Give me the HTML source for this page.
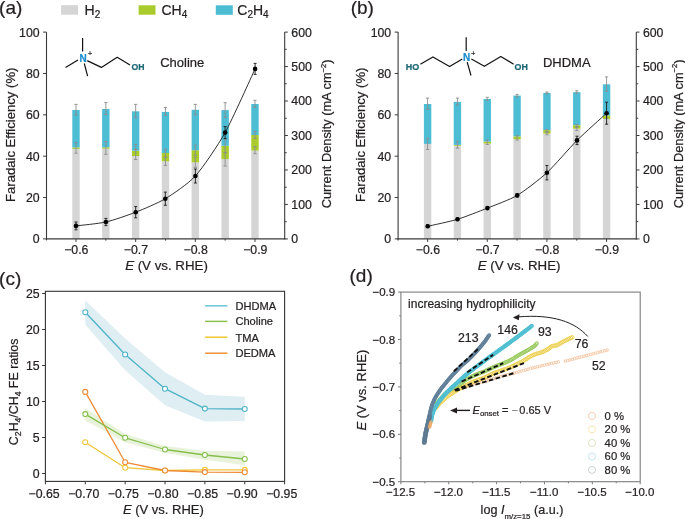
<!DOCTYPE html>
<html><head><meta charset="utf-8"><style>
html,body{margin:0;padding:0;background:#fff;width:685px;height:519px;overflow:hidden}
svg{display:block;font-family:"Liberation Sans", sans-serif;will-change:transform}
</style></head><body>
<svg width="685" height="519" viewBox="0 0 685 519" font-family='"Liberation Sans", sans-serif'>
<rect width="685" height="519" fill="#fff"/>
<rect x="72.30" y="148.90" width="7.4" height="90.00" fill="#d5d5d5"/>
<rect x="72.30" y="147.40" width="7.4" height="1.50" fill="#a9cb2c"/>
<rect x="72.30" y="110.00" width="7.4" height="37.40" fill="#4dbdd4"/>
<rect x="102.13" y="148.70" width="7.4" height="90.20" fill="#d5d5d5"/>
<rect x="102.13" y="147.30" width="7.4" height="1.40" fill="#a9cb2c"/>
<rect x="102.13" y="109.00" width="7.4" height="38.30" fill="#4dbdd4"/>
<rect x="131.96" y="156.00" width="7.4" height="82.90" fill="#d5d5d5"/>
<rect x="131.96" y="150.70" width="7.4" height="5.30" fill="#a9cb2c"/>
<rect x="131.96" y="111.30" width="7.4" height="39.40" fill="#4dbdd4"/>
<rect x="161.79" y="161.30" width="7.4" height="77.60" fill="#d5d5d5"/>
<rect x="161.79" y="153.00" width="7.4" height="8.30" fill="#a9cb2c"/>
<rect x="161.79" y="111.90" width="7.4" height="41.10" fill="#4dbdd4"/>
<rect x="191.62" y="162.30" width="7.4" height="76.60" fill="#d5d5d5"/>
<rect x="191.62" y="150.20" width="7.4" height="12.10" fill="#a9cb2c"/>
<rect x="191.62" y="109.80" width="7.4" height="40.40" fill="#4dbdd4"/>
<rect x="221.45" y="159.10" width="7.4" height="79.80" fill="#d5d5d5"/>
<rect x="221.45" y="145.80" width="7.4" height="13.30" fill="#a9cb2c"/>
<rect x="221.45" y="110.10" width="7.4" height="35.70" fill="#4dbdd4"/>
<rect x="251.28" y="150.60" width="7.4" height="88.30" fill="#d5d5d5"/>
<rect x="251.28" y="135.00" width="7.4" height="15.60" fill="#a9cb2c"/>
<rect x="251.28" y="104.00" width="7.4" height="31.00" fill="#4dbdd4"/>
<line x1="76.00" y1="104.40" x2="76.00" y2="115.00" stroke="#8d8d8d" stroke-width="0.9" />
<line x1="74.40" y1="104.40" x2="77.60" y2="104.40" stroke="#8d8d8d" stroke-width="0.9" />
<line x1="74.40" y1="115.00" x2="77.60" y2="115.00" stroke="#8d8d8d" stroke-width="0.9" />
<line x1="76.00" y1="142.60" x2="76.00" y2="153.20" stroke="#8d8d8d" stroke-width="0.9" />
<line x1="74.40" y1="142.60" x2="77.60" y2="142.60" stroke="#8d8d8d" stroke-width="0.9" />
<line x1="74.40" y1="153.20" x2="77.60" y2="153.20" stroke="#8d8d8d" stroke-width="0.9" />
<line x1="105.83" y1="102.50" x2="105.83" y2="114.40" stroke="#8d8d8d" stroke-width="0.9" />
<line x1="104.23" y1="102.50" x2="107.43" y2="102.50" stroke="#8d8d8d" stroke-width="0.9" />
<line x1="104.23" y1="114.40" x2="107.43" y2="114.40" stroke="#8d8d8d" stroke-width="0.9" />
<line x1="105.83" y1="141.50" x2="105.83" y2="154.30" stroke="#8d8d8d" stroke-width="0.9" />
<line x1="104.23" y1="141.50" x2="107.43" y2="141.50" stroke="#8d8d8d" stroke-width="0.9" />
<line x1="104.23" y1="154.30" x2="107.43" y2="154.30" stroke="#8d8d8d" stroke-width="0.9" />
<line x1="135.66" y1="104.40" x2="135.66" y2="117.80" stroke="#8d8d8d" stroke-width="0.9" />
<line x1="134.06" y1="104.40" x2="137.26" y2="104.40" stroke="#8d8d8d" stroke-width="0.9" />
<line x1="134.06" y1="117.80" x2="137.26" y2="117.80" stroke="#8d8d8d" stroke-width="0.9" />
<line x1="135.66" y1="144.50" x2="135.66" y2="149.50" stroke="#8d8d8d" stroke-width="0.9" />
<line x1="134.06" y1="144.50" x2="137.26" y2="144.50" stroke="#8d8d8d" stroke-width="0.9" />
<line x1="134.06" y1="149.50" x2="137.26" y2="149.50" stroke="#8d8d8d" stroke-width="0.9" />
<line x1="135.66" y1="149.50" x2="135.66" y2="159.50" stroke="#8d8d8d" stroke-width="0.9" />
<line x1="134.06" y1="149.50" x2="137.26" y2="149.50" stroke="#8d8d8d" stroke-width="0.9" />
<line x1="134.06" y1="159.50" x2="137.26" y2="159.50" stroke="#8d8d8d" stroke-width="0.9" />
<line x1="165.49" y1="107.40" x2="165.49" y2="115.50" stroke="#8d8d8d" stroke-width="0.9" />
<line x1="163.89" y1="107.40" x2="167.09" y2="107.40" stroke="#8d8d8d" stroke-width="0.9" />
<line x1="163.89" y1="115.50" x2="167.09" y2="115.50" stroke="#8d8d8d" stroke-width="0.9" />
<line x1="165.49" y1="149.20" x2="165.49" y2="157.30" stroke="#8d8d8d" stroke-width="0.9" />
<line x1="163.89" y1="149.20" x2="167.09" y2="149.20" stroke="#8d8d8d" stroke-width="0.9" />
<line x1="163.89" y1="157.30" x2="167.09" y2="157.30" stroke="#8d8d8d" stroke-width="0.9" />
<line x1="165.49" y1="157.30" x2="165.49" y2="165.40" stroke="#8d8d8d" stroke-width="0.9" />
<line x1="163.89" y1="157.30" x2="167.09" y2="157.30" stroke="#8d8d8d" stroke-width="0.9" />
<line x1="163.89" y1="165.40" x2="167.09" y2="165.40" stroke="#8d8d8d" stroke-width="0.9" />
<line x1="195.32" y1="104.40" x2="195.32" y2="114.80" stroke="#8d8d8d" stroke-width="0.9" />
<line x1="193.72" y1="104.40" x2="196.92" y2="104.40" stroke="#8d8d8d" stroke-width="0.9" />
<line x1="193.72" y1="114.80" x2="196.92" y2="114.80" stroke="#8d8d8d" stroke-width="0.9" />
<line x1="195.32" y1="145.20" x2="195.32" y2="155.30" stroke="#8d8d8d" stroke-width="0.9" />
<line x1="193.72" y1="145.20" x2="196.92" y2="145.20" stroke="#8d8d8d" stroke-width="0.9" />
<line x1="193.72" y1="155.30" x2="196.92" y2="155.30" stroke="#8d8d8d" stroke-width="0.9" />
<line x1="195.32" y1="157.30" x2="195.32" y2="167.40" stroke="#8d8d8d" stroke-width="0.9" />
<line x1="193.72" y1="157.30" x2="196.92" y2="157.30" stroke="#8d8d8d" stroke-width="0.9" />
<line x1="193.72" y1="167.40" x2="196.92" y2="167.40" stroke="#8d8d8d" stroke-width="0.9" />
<line x1="225.15" y1="102.70" x2="225.15" y2="117.50" stroke="#8d8d8d" stroke-width="0.9" />
<line x1="223.55" y1="102.70" x2="226.75" y2="102.70" stroke="#8d8d8d" stroke-width="0.9" />
<line x1="223.55" y1="117.50" x2="226.75" y2="117.50" stroke="#8d8d8d" stroke-width="0.9" />
<line x1="225.15" y1="139.00" x2="225.15" y2="152.60" stroke="#8d8d8d" stroke-width="0.9" />
<line x1="223.55" y1="139.00" x2="226.75" y2="139.00" stroke="#8d8d8d" stroke-width="0.9" />
<line x1="223.55" y1="152.60" x2="226.75" y2="152.60" stroke="#8d8d8d" stroke-width="0.9" />
<line x1="225.15" y1="152.60" x2="225.15" y2="166.10" stroke="#8d8d8d" stroke-width="0.9" />
<line x1="223.55" y1="152.60" x2="226.75" y2="152.60" stroke="#8d8d8d" stroke-width="0.9" />
<line x1="223.55" y1="166.10" x2="226.75" y2="166.10" stroke="#8d8d8d" stroke-width="0.9" />
<line x1="254.98" y1="100.30" x2="254.98" y2="107.40" stroke="#8d8d8d" stroke-width="0.9" />
<line x1="253.38" y1="100.30" x2="256.58" y2="100.30" stroke="#8d8d8d" stroke-width="0.9" />
<line x1="253.38" y1="107.40" x2="256.58" y2="107.40" stroke="#8d8d8d" stroke-width="0.9" />
<line x1="254.98" y1="131.40" x2="254.98" y2="138.50" stroke="#8d8d8d" stroke-width="0.9" />
<line x1="253.38" y1="131.40" x2="256.58" y2="131.40" stroke="#8d8d8d" stroke-width="0.9" />
<line x1="253.38" y1="138.50" x2="256.58" y2="138.50" stroke="#8d8d8d" stroke-width="0.9" />
<line x1="254.98" y1="146.60" x2="254.98" y2="153.70" stroke="#8d8d8d" stroke-width="0.9" />
<line x1="253.38" y1="146.60" x2="256.58" y2="146.60" stroke="#8d8d8d" stroke-width="0.9" />
<line x1="253.38" y1="153.70" x2="256.58" y2="153.70" stroke="#8d8d8d" stroke-width="0.9" />
<line x1="46.50" y1="32.10" x2="46.50" y2="240.40" stroke="#3a3a3a" stroke-width="1.1" />
<line x1="284.70" y1="32.10" x2="284.70" y2="239.50" stroke="#3a3a3a" stroke-width="1.1" />
<line x1="46.00" y1="238.90" x2="285.20" y2="238.90" stroke="#3a3a3a" stroke-width="1.1" />
<line x1="43.10" y1="238.90" x2="46.50" y2="238.90" stroke="#3a3a3a" stroke-width="1.0" />
<text x="39.60" y="243.30" font-size="12.3" text-anchor="end" fill="#231f20" stroke="#231f20" stroke-width="0.22" >0</text>
<line x1="43.10" y1="197.54" x2="46.50" y2="197.54" stroke="#3a3a3a" stroke-width="1.0" />
<text x="39.60" y="201.94" font-size="12.3" text-anchor="end" fill="#231f20" stroke="#231f20" stroke-width="0.22" >20</text>
<line x1="43.10" y1="156.18" x2="46.50" y2="156.18" stroke="#3a3a3a" stroke-width="1.0" />
<text x="39.60" y="160.58" font-size="12.3" text-anchor="end" fill="#231f20" stroke="#231f20" stroke-width="0.22" >40</text>
<line x1="43.10" y1="114.82" x2="46.50" y2="114.82" stroke="#3a3a3a" stroke-width="1.0" />
<text x="39.60" y="119.22" font-size="12.3" text-anchor="end" fill="#231f20" stroke="#231f20" stroke-width="0.22" >60</text>
<line x1="43.10" y1="73.46" x2="46.50" y2="73.46" stroke="#3a3a3a" stroke-width="1.0" />
<text x="39.60" y="77.86" font-size="12.3" text-anchor="end" fill="#231f20" stroke="#231f20" stroke-width="0.22" >80</text>
<line x1="43.10" y1="32.10" x2="46.50" y2="32.10" stroke="#3a3a3a" stroke-width="1.0" />
<text x="39.60" y="36.50" font-size="12.3" text-anchor="end" fill="#231f20" stroke="#231f20" stroke-width="0.22" >100</text>
<line x1="284.70" y1="238.90" x2="287.90" y2="238.90" stroke="#3a3a3a" stroke-width="1.0" />
<text x="291.30" y="243.30" font-size="12.3" text-anchor="start" fill="#231f20" stroke="#231f20" stroke-width="0.22" >0</text>
<line x1="284.70" y1="221.67" x2="286.70" y2="221.67" stroke="#3a3a3a" stroke-width="1.0" />
<line x1="284.70" y1="204.43" x2="287.90" y2="204.43" stroke="#3a3a3a" stroke-width="1.0" />
<text x="291.30" y="208.83" font-size="12.3" text-anchor="start" fill="#231f20" stroke="#231f20" stroke-width="0.22" >100</text>
<line x1="284.70" y1="187.20" x2="286.70" y2="187.20" stroke="#3a3a3a" stroke-width="1.0" />
<line x1="284.70" y1="169.97" x2="287.90" y2="169.97" stroke="#3a3a3a" stroke-width="1.0" />
<text x="291.30" y="174.37" font-size="12.3" text-anchor="start" fill="#231f20" stroke="#231f20" stroke-width="0.22" >200</text>
<line x1="284.70" y1="152.73" x2="286.70" y2="152.73" stroke="#3a3a3a" stroke-width="1.0" />
<line x1="284.70" y1="135.50" x2="287.90" y2="135.50" stroke="#3a3a3a" stroke-width="1.0" />
<text x="291.30" y="139.90" font-size="12.3" text-anchor="start" fill="#231f20" stroke="#231f20" stroke-width="0.22" >300</text>
<line x1="284.70" y1="118.27" x2="286.70" y2="118.27" stroke="#3a3a3a" stroke-width="1.0" />
<line x1="284.70" y1="101.03" x2="287.90" y2="101.03" stroke="#3a3a3a" stroke-width="1.0" />
<text x="291.30" y="105.43" font-size="12.3" text-anchor="start" fill="#231f20" stroke="#231f20" stroke-width="0.22" >400</text>
<line x1="284.70" y1="83.80" x2="286.70" y2="83.80" stroke="#3a3a3a" stroke-width="1.0" />
<line x1="284.70" y1="66.57" x2="287.90" y2="66.57" stroke="#3a3a3a" stroke-width="1.0" />
<text x="291.30" y="70.97" font-size="12.3" text-anchor="start" fill="#231f20" stroke="#231f20" stroke-width="0.22" >500</text>
<line x1="284.70" y1="49.33" x2="286.70" y2="49.33" stroke="#3a3a3a" stroke-width="1.0" />
<line x1="284.70" y1="32.10" x2="287.90" y2="32.10" stroke="#3a3a3a" stroke-width="1.0" />
<text x="291.30" y="36.50" font-size="12.3" text-anchor="start" fill="#231f20" stroke="#231f20" stroke-width="0.22" >600</text>
<line x1="76.00" y1="238.90" x2="76.00" y2="241.90" stroke="#3a3a3a" stroke-width="1.0" />
<text x="76.30" y="254.20" font-size="12.3" text-anchor="middle" fill="#231f20" stroke="#231f20" stroke-width="0.22" >&#8722;0.6</text>
<line x1="105.83" y1="238.90" x2="105.83" y2="240.60" stroke="#3a3a3a" stroke-width="1.0" />
<line x1="135.66" y1="238.90" x2="135.66" y2="241.90" stroke="#3a3a3a" stroke-width="1.0" />
<text x="135.96" y="254.20" font-size="12.3" text-anchor="middle" fill="#231f20" stroke="#231f20" stroke-width="0.22" >&#8722;0.7</text>
<line x1="165.49" y1="238.90" x2="165.49" y2="240.60" stroke="#3a3a3a" stroke-width="1.0" />
<line x1="195.32" y1="238.90" x2="195.32" y2="241.90" stroke="#3a3a3a" stroke-width="1.0" />
<text x="195.62" y="254.20" font-size="12.3" text-anchor="middle" fill="#231f20" stroke="#231f20" stroke-width="0.22" >&#8722;0.8</text>
<line x1="225.15" y1="238.90" x2="225.15" y2="240.60" stroke="#3a3a3a" stroke-width="1.0" />
<line x1="254.98" y1="238.90" x2="254.98" y2="241.90" stroke="#3a3a3a" stroke-width="1.0" />
<text x="255.28" y="254.20" font-size="12.3" text-anchor="middle" fill="#231f20" stroke="#231f20" stroke-width="0.22" >&#8722;0.9</text>
<path d="M76.00,225.90 C79.49,225.44 98.94,223.60 105.90,222.00 C112.87,220.40 128.77,214.92 135.70,212.20 C142.63,209.48 158.34,202.92 165.30,198.70 C172.27,194.48 188.42,183.71 195.40,176.00 C202.38,168.29 218.13,145.09 225.10,132.60 C232.06,120.10 251.60,76.33 255.10,68.90" stroke="#1a1a1a" stroke-width="0.9" fill="none"/>
<line x1="76.00" y1="222.00" x2="76.00" y2="229.80" stroke="#1a1a1a" stroke-width="0.9" />
<line x1="74.50" y1="222.00" x2="77.50" y2="222.00" stroke="#1a1a1a" stroke-width="0.9" />
<line x1="74.50" y1="229.80" x2="77.50" y2="229.80" stroke="#1a1a1a" stroke-width="0.9" />
<circle cx="76.00" cy="225.90" r="2.3" fill="#000"/>
<line x1="105.90" y1="218.40" x2="105.90" y2="225.60" stroke="#1a1a1a" stroke-width="0.9" />
<line x1="104.40" y1="218.40" x2="107.40" y2="218.40" stroke="#1a1a1a" stroke-width="0.9" />
<line x1="104.40" y1="225.60" x2="107.40" y2="225.60" stroke="#1a1a1a" stroke-width="0.9" />
<circle cx="105.90" cy="222.00" r="2.3" fill="#000"/>
<line x1="135.70" y1="206.60" x2="135.70" y2="217.80" stroke="#1a1a1a" stroke-width="0.9" />
<line x1="134.20" y1="206.60" x2="137.20" y2="206.60" stroke="#1a1a1a" stroke-width="0.9" />
<line x1="134.20" y1="217.80" x2="137.20" y2="217.80" stroke="#1a1a1a" stroke-width="0.9" />
<circle cx="135.70" cy="212.20" r="2.3" fill="#000"/>
<line x1="165.30" y1="192.10" x2="165.30" y2="205.30" stroke="#1a1a1a" stroke-width="0.9" />
<line x1="163.80" y1="192.10" x2="166.80" y2="192.10" stroke="#1a1a1a" stroke-width="0.9" />
<line x1="163.80" y1="205.30" x2="166.80" y2="205.30" stroke="#1a1a1a" stroke-width="0.9" />
<circle cx="165.30" cy="198.70" r="2.3" fill="#000"/>
<line x1="195.40" y1="169.00" x2="195.40" y2="183.00" stroke="#1a1a1a" stroke-width="0.9" />
<line x1="193.90" y1="169.00" x2="196.90" y2="169.00" stroke="#1a1a1a" stroke-width="0.9" />
<line x1="193.90" y1="183.00" x2="196.90" y2="183.00" stroke="#1a1a1a" stroke-width="0.9" />
<circle cx="195.40" cy="176.00" r="2.3" fill="#000"/>
<line x1="225.10" y1="126.60" x2="225.10" y2="138.60" stroke="#1a1a1a" stroke-width="0.9" />
<line x1="223.60" y1="126.60" x2="226.60" y2="126.60" stroke="#1a1a1a" stroke-width="0.9" />
<line x1="223.60" y1="138.60" x2="226.60" y2="138.60" stroke="#1a1a1a" stroke-width="0.9" />
<circle cx="225.10" cy="132.60" r="2.3" fill="#000"/>
<line x1="255.10" y1="63.40" x2="255.10" y2="74.40" stroke="#1a1a1a" stroke-width="0.9" />
<line x1="253.60" y1="63.40" x2="256.60" y2="63.40" stroke="#1a1a1a" stroke-width="0.9" />
<line x1="253.60" y1="74.40" x2="256.60" y2="74.40" stroke="#1a1a1a" stroke-width="0.9" />
<circle cx="255.10" cy="68.90" r="2.3" fill="#000"/>
<text x="0" y="0" font-size="13.1" text-anchor="middle" fill="#231f20" stroke="#231f20" stroke-width="0.22" transform="translate(15.20,134.80) rotate(-90)">Faradaic Efficiency (%)</text>
<text x="0" y="0" font-size="12.8" text-anchor="middle" fill="#231f20" stroke="#231f20" stroke-width="0.22" transform="translate(330.90,133.90) rotate(-90)">Current Density (mA cm<tspan font-size="7.6" dy="-5.4">&#8722;2</tspan><tspan dy="5.4">)</tspan></text>
<text x="166.50" y="270.2" font-size="13.3" text-anchor="middle" fill="#231f20" stroke="#231f20" stroke-width="0.22"><tspan font-style="italic">E</tspan> (V vs. RHE)</text>
<text x="-0.90" y="13.90" font-size="19" text-anchor="start" fill="#231f20" stroke="#231f20" stroke-width="0.22" >(a)</text>
<rect x="61.1" y="5.2" width="17" height="9.5" fill="#d5d5d5"/>
<rect x="138.6" y="5.3" width="16.9" height="9.4" fill="#a9cb2c"/>
<rect x="215.8" y="5.3" width="17" height="9.5" fill="#4dbdd4"/>
<text x="84.6" y="15.3" font-size="14" fill="#231f20" stroke="#231f20" stroke-width="0.22">H<tspan font-size="10" dy="2.2">2</tspan></text>
<text x="161.4" y="15.3" font-size="14" fill="#231f20" stroke="#231f20" stroke-width="0.22">CH<tspan font-size="10" dy="2.2">4</tspan></text>
<text x="237.3" y="15.3" font-size="14" fill="#231f20" stroke="#231f20" stroke-width="0.22">C<tspan font-size="10" dy="2.2">2</tspan><tspan dy="-2.2">H</tspan><tspan font-size="10" dy="2.2">4</tspan></text>
<line x1="82.60" y1="37.90" x2="82.60" y2="51.50" stroke="#111" stroke-width="1.2" />
<line x1="65.50" y1="67.40" x2="78.00" y2="60.00" stroke="#111" stroke-width="1.2" />
<line x1="84.30" y1="63.50" x2="87.60" y2="76.20" stroke="#111" stroke-width="1.2" />
<polyline points="87.60,60.90 101.40,67.40 117.20,57.30 129.60,64.80" stroke="#111" stroke-width="1.2" fill="none" stroke-linejoin="round" stroke-linecap="round" stroke-linecap="butt"/>
<text x="83.00" y="61.50" font-size="10" text-anchor="middle" fill="#1a8dd0" stroke="#1a8dd0" stroke-width="0.22" font-weight="bold">N</text>
<text x="90.00" y="56.00" font-size="7" text-anchor="middle" fill="#222" stroke="#222" stroke-width="0.22" >+</text>
<text x="131.60" y="70.10" font-size="9" text-anchor="start" fill="#1c6675" stroke="#1c6675" stroke-width="0.22" font-weight="bold" textLength="13" lengthAdjust="spacingAndGlyphs">OH</text>
<text x="160.20" y="67.00" font-size="13" text-anchor="start" fill="#231f20" stroke="#231f20" stroke-width="0.22" >Choline</text>
<rect x="423.90" y="143.90" width="7.4" height="95.00" fill="#d5d5d5"/>
<rect x="423.90" y="104.00" width="7.4" height="39.90" fill="#4dbdd4"/>
<rect x="453.73" y="145.70" width="7.4" height="93.20" fill="#d5d5d5"/>
<rect x="453.73" y="144.90" width="7.4" height="0.80" fill="#a9cb2c"/>
<rect x="453.73" y="101.90" width="7.4" height="43.00" fill="#4dbdd4"/>
<rect x="483.56" y="143.60" width="7.4" height="95.30" fill="#d5d5d5"/>
<rect x="483.56" y="141.60" width="7.4" height="2.00" fill="#a9cb2c"/>
<rect x="483.56" y="99.00" width="7.4" height="42.60" fill="#4dbdd4"/>
<rect x="513.39" y="139.20" width="7.4" height="99.70" fill="#d5d5d5"/>
<rect x="513.39" y="136.40" width="7.4" height="2.80" fill="#a9cb2c"/>
<rect x="513.39" y="95.60" width="7.4" height="40.80" fill="#4dbdd4"/>
<rect x="543.22" y="133.60" width="7.4" height="105.30" fill="#d5d5d5"/>
<rect x="543.22" y="130.10" width="7.4" height="3.50" fill="#a9cb2c"/>
<rect x="543.22" y="92.90" width="7.4" height="37.20" fill="#4dbdd4"/>
<rect x="573.05" y="128.70" width="7.4" height="110.20" fill="#d5d5d5"/>
<rect x="573.05" y="125.20" width="7.4" height="3.50" fill="#a9cb2c"/>
<rect x="573.05" y="92.20" width="7.4" height="33.00" fill="#4dbdd4"/>
<rect x="602.88" y="119.00" width="7.4" height="119.90" fill="#d5d5d5"/>
<rect x="602.88" y="115.50" width="7.4" height="3.50" fill="#a9cb2c"/>
<rect x="602.88" y="84.30" width="7.4" height="31.20" fill="#4dbdd4"/>
<line x1="427.60" y1="98.10" x2="427.60" y2="109.40" stroke="#8d8d8d" stroke-width="0.9" />
<line x1="426.00" y1="98.10" x2="429.20" y2="98.10" stroke="#8d8d8d" stroke-width="0.9" />
<line x1="426.00" y1="109.40" x2="429.20" y2="109.40" stroke="#8d8d8d" stroke-width="0.9" />
<line x1="427.60" y1="138.20" x2="427.60" y2="149.50" stroke="#8d8d8d" stroke-width="0.9" />
<line x1="426.00" y1="138.20" x2="429.20" y2="138.20" stroke="#8d8d8d" stroke-width="0.9" />
<line x1="426.00" y1="149.50" x2="429.20" y2="149.50" stroke="#8d8d8d" stroke-width="0.9" />
<line x1="457.43" y1="98.10" x2="457.43" y2="105.00" stroke="#8d8d8d" stroke-width="0.9" />
<line x1="455.83" y1="98.10" x2="459.03" y2="98.10" stroke="#8d8d8d" stroke-width="0.9" />
<line x1="455.83" y1="105.00" x2="459.03" y2="105.00" stroke="#8d8d8d" stroke-width="0.9" />
<line x1="457.43" y1="141.30" x2="457.43" y2="148.20" stroke="#8d8d8d" stroke-width="0.9" />
<line x1="455.83" y1="141.30" x2="459.03" y2="141.30" stroke="#8d8d8d" stroke-width="0.9" />
<line x1="455.83" y1="148.20" x2="459.03" y2="148.20" stroke="#8d8d8d" stroke-width="0.9" />
<line x1="487.26" y1="97.30" x2="487.26" y2="100.30" stroke="#8d8d8d" stroke-width="0.9" />
<line x1="485.66" y1="97.30" x2="488.86" y2="97.30" stroke="#8d8d8d" stroke-width="0.9" />
<line x1="485.66" y1="100.30" x2="488.86" y2="100.30" stroke="#8d8d8d" stroke-width="0.9" />
<line x1="487.26" y1="140.10" x2="487.26" y2="144.50" stroke="#8d8d8d" stroke-width="0.9" />
<line x1="485.66" y1="140.10" x2="488.86" y2="140.10" stroke="#8d8d8d" stroke-width="0.9" />
<line x1="485.66" y1="144.50" x2="488.86" y2="144.50" stroke="#8d8d8d" stroke-width="0.9" />
<line x1="517.09" y1="94.40" x2="517.09" y2="96.90" stroke="#8d8d8d" stroke-width="0.9" />
<line x1="515.49" y1="94.40" x2="518.69" y2="94.40" stroke="#8d8d8d" stroke-width="0.9" />
<line x1="515.49" y1="96.90" x2="518.69" y2="96.90" stroke="#8d8d8d" stroke-width="0.9" />
<line x1="517.09" y1="135.70" x2="517.09" y2="140.10" stroke="#8d8d8d" stroke-width="0.9" />
<line x1="515.49" y1="135.70" x2="518.69" y2="135.70" stroke="#8d8d8d" stroke-width="0.9" />
<line x1="515.49" y1="140.10" x2="518.69" y2="140.10" stroke="#8d8d8d" stroke-width="0.9" />
<line x1="546.92" y1="92.00" x2="546.92" y2="93.80" stroke="#8d8d8d" stroke-width="0.9" />
<line x1="545.32" y1="92.00" x2="548.52" y2="92.00" stroke="#8d8d8d" stroke-width="0.9" />
<line x1="545.32" y1="93.80" x2="548.52" y2="93.80" stroke="#8d8d8d" stroke-width="0.9" />
<line x1="546.92" y1="129.50" x2="546.92" y2="131.50" stroke="#8d8d8d" stroke-width="0.9" />
<line x1="545.32" y1="129.50" x2="548.52" y2="129.50" stroke="#8d8d8d" stroke-width="0.9" />
<line x1="545.32" y1="131.50" x2="548.52" y2="131.50" stroke="#8d8d8d" stroke-width="0.9" />
<line x1="546.92" y1="132.50" x2="546.92" y2="134.80" stroke="#8d8d8d" stroke-width="0.9" />
<line x1="545.32" y1="132.50" x2="548.52" y2="132.50" stroke="#8d8d8d" stroke-width="0.9" />
<line x1="545.32" y1="134.80" x2="548.52" y2="134.80" stroke="#8d8d8d" stroke-width="0.9" />
<line x1="576.75" y1="90.80" x2="576.75" y2="93.30" stroke="#8d8d8d" stroke-width="0.9" />
<line x1="575.15" y1="90.80" x2="578.35" y2="90.80" stroke="#8d8d8d" stroke-width="0.9" />
<line x1="575.15" y1="93.30" x2="578.35" y2="93.30" stroke="#8d8d8d" stroke-width="0.9" />
<line x1="576.75" y1="124.50" x2="576.75" y2="126.50" stroke="#8d8d8d" stroke-width="0.9" />
<line x1="575.15" y1="124.50" x2="578.35" y2="124.50" stroke="#8d8d8d" stroke-width="0.9" />
<line x1="575.15" y1="126.50" x2="578.35" y2="126.50" stroke="#8d8d8d" stroke-width="0.9" />
<line x1="576.75" y1="127.50" x2="576.75" y2="130.50" stroke="#8d8d8d" stroke-width="0.9" />
<line x1="575.15" y1="127.50" x2="578.35" y2="127.50" stroke="#8d8d8d" stroke-width="0.9" />
<line x1="575.15" y1="130.50" x2="578.35" y2="130.50" stroke="#8d8d8d" stroke-width="0.9" />
<line x1="606.58" y1="76.90" x2="606.58" y2="91.30" stroke="#8d8d8d" stroke-width="0.9" />
<line x1="604.98" y1="76.90" x2="608.18" y2="76.90" stroke="#8d8d8d" stroke-width="0.9" />
<line x1="604.98" y1="91.30" x2="608.18" y2="91.30" stroke="#8d8d8d" stroke-width="0.9" />
<line x1="606.58" y1="112.50" x2="606.58" y2="118.50" stroke="#8d8d8d" stroke-width="0.9" />
<line x1="604.98" y1="112.50" x2="608.18" y2="112.50" stroke="#8d8d8d" stroke-width="0.9" />
<line x1="604.98" y1="118.50" x2="608.18" y2="118.50" stroke="#8d8d8d" stroke-width="0.9" />
<line x1="398.10" y1="32.10" x2="398.10" y2="240.40" stroke="#3a3a3a" stroke-width="1.1" />
<line x1="636.30" y1="32.10" x2="636.30" y2="239.50" stroke="#3a3a3a" stroke-width="1.1" />
<line x1="397.60" y1="238.90" x2="636.80" y2="238.90" stroke="#3a3a3a" stroke-width="1.1" />
<line x1="394.70" y1="238.90" x2="398.10" y2="238.90" stroke="#3a3a3a" stroke-width="1.0" />
<text x="391.20" y="243.30" font-size="12.3" text-anchor="end" fill="#231f20" stroke="#231f20" stroke-width="0.22" >0</text>
<line x1="394.70" y1="197.54" x2="398.10" y2="197.54" stroke="#3a3a3a" stroke-width="1.0" />
<text x="391.20" y="201.94" font-size="12.3" text-anchor="end" fill="#231f20" stroke="#231f20" stroke-width="0.22" >20</text>
<line x1="394.70" y1="156.18" x2="398.10" y2="156.18" stroke="#3a3a3a" stroke-width="1.0" />
<text x="391.20" y="160.58" font-size="12.3" text-anchor="end" fill="#231f20" stroke="#231f20" stroke-width="0.22" >40</text>
<line x1="394.70" y1="114.82" x2="398.10" y2="114.82" stroke="#3a3a3a" stroke-width="1.0" />
<text x="391.20" y="119.22" font-size="12.3" text-anchor="end" fill="#231f20" stroke="#231f20" stroke-width="0.22" >60</text>
<line x1="394.70" y1="73.46" x2="398.10" y2="73.46" stroke="#3a3a3a" stroke-width="1.0" />
<text x="391.20" y="77.86" font-size="12.3" text-anchor="end" fill="#231f20" stroke="#231f20" stroke-width="0.22" >80</text>
<line x1="394.70" y1="32.10" x2="398.10" y2="32.10" stroke="#3a3a3a" stroke-width="1.0" />
<text x="391.20" y="36.50" font-size="12.3" text-anchor="end" fill="#231f20" stroke="#231f20" stroke-width="0.22" >100</text>
<line x1="636.30" y1="238.90" x2="639.50" y2="238.90" stroke="#3a3a3a" stroke-width="1.0" />
<text x="642.90" y="243.30" font-size="12.3" text-anchor="start" fill="#231f20" stroke="#231f20" stroke-width="0.22" >0</text>
<line x1="636.30" y1="221.67" x2="638.30" y2="221.67" stroke="#3a3a3a" stroke-width="1.0" />
<line x1="636.30" y1="204.43" x2="639.50" y2="204.43" stroke="#3a3a3a" stroke-width="1.0" />
<text x="642.90" y="208.83" font-size="12.3" text-anchor="start" fill="#231f20" stroke="#231f20" stroke-width="0.22" >100</text>
<line x1="636.30" y1="187.20" x2="638.30" y2="187.20" stroke="#3a3a3a" stroke-width="1.0" />
<line x1="636.30" y1="169.97" x2="639.50" y2="169.97" stroke="#3a3a3a" stroke-width="1.0" />
<text x="642.90" y="174.37" font-size="12.3" text-anchor="start" fill="#231f20" stroke="#231f20" stroke-width="0.22" >200</text>
<line x1="636.30" y1="152.73" x2="638.30" y2="152.73" stroke="#3a3a3a" stroke-width="1.0" />
<line x1="636.30" y1="135.50" x2="639.50" y2="135.50" stroke="#3a3a3a" stroke-width="1.0" />
<text x="642.90" y="139.90" font-size="12.3" text-anchor="start" fill="#231f20" stroke="#231f20" stroke-width="0.22" >300</text>
<line x1="636.30" y1="118.27" x2="638.30" y2="118.27" stroke="#3a3a3a" stroke-width="1.0" />
<line x1="636.30" y1="101.03" x2="639.50" y2="101.03" stroke="#3a3a3a" stroke-width="1.0" />
<text x="642.90" y="105.43" font-size="12.3" text-anchor="start" fill="#231f20" stroke="#231f20" stroke-width="0.22" >400</text>
<line x1="636.30" y1="83.80" x2="638.30" y2="83.80" stroke="#3a3a3a" stroke-width="1.0" />
<line x1="636.30" y1="66.57" x2="639.50" y2="66.57" stroke="#3a3a3a" stroke-width="1.0" />
<text x="642.90" y="70.97" font-size="12.3" text-anchor="start" fill="#231f20" stroke="#231f20" stroke-width="0.22" >500</text>
<line x1="636.30" y1="49.33" x2="638.30" y2="49.33" stroke="#3a3a3a" stroke-width="1.0" />
<line x1="636.30" y1="32.10" x2="639.50" y2="32.10" stroke="#3a3a3a" stroke-width="1.0" />
<text x="642.90" y="36.50" font-size="12.3" text-anchor="start" fill="#231f20" stroke="#231f20" stroke-width="0.22" >600</text>
<line x1="427.60" y1="238.90" x2="427.60" y2="241.90" stroke="#3a3a3a" stroke-width="1.0" />
<text x="427.90" y="254.20" font-size="12.3" text-anchor="middle" fill="#231f20" stroke="#231f20" stroke-width="0.22" >&#8722;0.6</text>
<line x1="457.43" y1="238.90" x2="457.43" y2="240.60" stroke="#3a3a3a" stroke-width="1.0" />
<line x1="487.26" y1="238.90" x2="487.26" y2="241.90" stroke="#3a3a3a" stroke-width="1.0" />
<text x="487.56" y="254.20" font-size="12.3" text-anchor="middle" fill="#231f20" stroke="#231f20" stroke-width="0.22" >&#8722;0.7</text>
<line x1="517.09" y1="238.90" x2="517.09" y2="240.60" stroke="#3a3a3a" stroke-width="1.0" />
<line x1="546.92" y1="238.90" x2="546.92" y2="241.90" stroke="#3a3a3a" stroke-width="1.0" />
<text x="547.22" y="254.20" font-size="12.3" text-anchor="middle" fill="#231f20" stroke="#231f20" stroke-width="0.22" >&#8722;0.8</text>
<line x1="576.75" y1="238.90" x2="576.75" y2="240.60" stroke="#3a3a3a" stroke-width="1.0" />
<line x1="606.58" y1="238.90" x2="606.58" y2="241.90" stroke="#3a3a3a" stroke-width="1.0" />
<text x="606.88" y="254.20" font-size="12.3" text-anchor="middle" fill="#231f20" stroke="#231f20" stroke-width="0.22" >&#8722;0.9</text>
<path d="M427.70,226.30 C431.18,225.48 450.54,221.42 457.50,219.30 C464.46,217.18 480.43,210.89 487.40,208.10 C494.37,205.31 510.26,199.53 517.20,195.40 C524.14,191.27 539.92,179.12 546.90,172.70 C553.88,166.28 570.03,147.34 577.00,140.40 C583.97,133.46 603.15,116.37 606.60,113.20" stroke="#1a1a1a" stroke-width="0.9" fill="none"/>
<line x1="427.70" y1="225.00" x2="427.70" y2="227.60" stroke="#1a1a1a" stroke-width="0.9" />
<line x1="426.20" y1="225.00" x2="429.20" y2="225.00" stroke="#1a1a1a" stroke-width="0.9" />
<line x1="426.20" y1="227.60" x2="429.20" y2="227.60" stroke="#1a1a1a" stroke-width="0.9" />
<circle cx="427.70" cy="226.30" r="2.3" fill="#000"/>
<line x1="457.50" y1="218.00" x2="457.50" y2="220.60" stroke="#1a1a1a" stroke-width="0.9" />
<line x1="456.00" y1="218.00" x2="459.00" y2="218.00" stroke="#1a1a1a" stroke-width="0.9" />
<line x1="456.00" y1="220.60" x2="459.00" y2="220.60" stroke="#1a1a1a" stroke-width="0.9" />
<circle cx="457.50" cy="219.30" r="2.3" fill="#000"/>
<line x1="487.40" y1="206.60" x2="487.40" y2="209.60" stroke="#1a1a1a" stroke-width="0.9" />
<line x1="485.90" y1="206.60" x2="488.90" y2="206.60" stroke="#1a1a1a" stroke-width="0.9" />
<line x1="485.90" y1="209.60" x2="488.90" y2="209.60" stroke="#1a1a1a" stroke-width="0.9" />
<circle cx="487.40" cy="208.10" r="2.3" fill="#000"/>
<line x1="517.20" y1="193.90" x2="517.20" y2="196.90" stroke="#1a1a1a" stroke-width="0.9" />
<line x1="515.70" y1="193.90" x2="518.70" y2="193.90" stroke="#1a1a1a" stroke-width="0.9" />
<line x1="515.70" y1="196.90" x2="518.70" y2="196.90" stroke="#1a1a1a" stroke-width="0.9" />
<circle cx="517.20" cy="195.40" r="2.3" fill="#000"/>
<line x1="546.90" y1="165.50" x2="546.90" y2="179.90" stroke="#1a1a1a" stroke-width="0.9" />
<line x1="545.40" y1="165.50" x2="548.40" y2="165.50" stroke="#1a1a1a" stroke-width="0.9" />
<line x1="545.40" y1="179.90" x2="548.40" y2="179.90" stroke="#1a1a1a" stroke-width="0.9" />
<circle cx="546.90" cy="172.70" r="2.3" fill="#000"/>
<line x1="577.00" y1="136.20" x2="577.00" y2="144.60" stroke="#1a1a1a" stroke-width="0.9" />
<line x1="575.50" y1="136.20" x2="578.50" y2="136.20" stroke="#1a1a1a" stroke-width="0.9" />
<line x1="575.50" y1="144.60" x2="578.50" y2="144.60" stroke="#1a1a1a" stroke-width="0.9" />
<circle cx="577.00" cy="140.40" r="2.3" fill="#000"/>
<line x1="606.60" y1="102.20" x2="606.60" y2="124.20" stroke="#1a1a1a" stroke-width="0.9" />
<line x1="605.10" y1="102.20" x2="608.10" y2="102.20" stroke="#1a1a1a" stroke-width="0.9" />
<line x1="605.10" y1="124.20" x2="608.10" y2="124.20" stroke="#1a1a1a" stroke-width="0.9" />
<circle cx="606.60" cy="113.20" r="2.3" fill="#000"/>
<text x="0" y="0" font-size="13.1" text-anchor="middle" fill="#231f20" stroke="#231f20" stroke-width="0.22" transform="translate(365.29,134.80) rotate(-90)">Faradaic Efficiency (%)</text>
<text x="0" y="0" font-size="12.8" text-anchor="middle" fill="#231f20" stroke="#231f20" stroke-width="0.22" transform="translate(682.50,133.90) rotate(-90)">Current Density (mA cm<tspan font-size="7.6" dy="-5.4">&#8722;2</tspan><tspan dy="5.4">)</tspan></text>
<text x="519.10" y="270.2" font-size="13.3" text-anchor="middle" fill="#231f20" stroke="#231f20" stroke-width="0.22"><tspan font-style="italic">E</tspan> (V vs. RHE)</text>
<text x="350.70" y="13.90" font-size="19" text-anchor="start" fill="#231f20" stroke="#231f20" stroke-width="0.22" >(b)</text>
<line x1="466.20" y1="37.20" x2="466.20" y2="51.00" stroke="#111" stroke-width="1.2" />
<line x1="467.20" y1="62.10" x2="471.00" y2="75.50" stroke="#111" stroke-width="1.2" />
<polyline points="461.90,59.20 449.60,66.40 432.90,56.90 420.80,63.90" stroke="#111" stroke-width="1.2" fill="none" stroke-linejoin="round" stroke-linecap="round" stroke-linecap="butt"/>
<polyline points="471.80,59.20 484.40,66.30 500.80,56.60 513.30,63.90" stroke="#111" stroke-width="1.2" fill="none" stroke-linejoin="round" stroke-linecap="round" stroke-linecap="butt"/>
<text x="466.60" y="60.70" font-size="10" text-anchor="middle" fill="#1a8dd0" stroke="#1a8dd0" stroke-width="0.22" font-weight="bold">N</text>
<text x="473.30" y="56.20" font-size="7" text-anchor="middle" fill="#222" stroke="#222" stroke-width="0.22" >+</text>
<text x="405.80" y="69.70" font-size="9" text-anchor="start" fill="#1c6675" stroke="#1c6675" stroke-width="0.22" font-weight="bold" textLength="13.4" lengthAdjust="spacingAndGlyphs">HO</text>
<text x="514.50" y="69.80" font-size="9" text-anchor="start" fill="#1c6675" stroke="#1c6675" stroke-width="0.22" font-weight="bold" textLength="13.3" lengthAdjust="spacingAndGlyphs">OH</text>
<text x="542.90" y="66.60" font-size="13" text-anchor="start" fill="#231f20" stroke="#231f20" stroke-width="0.22" >DHDMA</text>
<rect x="45.4" y="291.3" width="239.20" height="190.10" fill="none" stroke="#333" stroke-width="1.1"/>
<polygon points="85.27,300.40 125.14,338.50 165.01,372.20 204.88,394.80 244.75,396.80 244.75,421.10 204.88,421.50 165.01,405.20 125.14,370.30 85.27,324.70" fill="#dfeef3" />
<polygon points="85.27,407.90 125.14,434.00 165.01,446.00 204.88,450.70 244.75,451.40 244.75,465.30 204.88,459.70 165.01,452.80 125.14,442.60 85.27,420.50" fill="#e9f3dc" />
<polyline points="85.27,442.20 125.14,467.70 165.01,470.50 204.88,469.90 244.75,469.90" stroke="#f0c63a" stroke-width="1.3" fill="none" stroke-linejoin="round" stroke-linecap="round" />
<circle cx="85.27" cy="442.20" r="2.5" fill="#fff" stroke="#f0c63a" stroke-width="1.1"/>
<circle cx="125.14" cy="467.70" r="2.5" fill="#fff" stroke="#f0c63a" stroke-width="1.1"/>
<circle cx="165.01" cy="470.50" r="2.5" fill="#fff" stroke="#f0c63a" stroke-width="1.1"/>
<circle cx="204.88" cy="469.90" r="2.5" fill="#fff" stroke="#f0c63a" stroke-width="1.1"/>
<circle cx="244.75" cy="469.90" r="2.5" fill="#fff" stroke="#f0c63a" stroke-width="1.1"/>
<polyline points="85.27,391.90 125.14,462.30 165.01,470.50 204.88,472.10 244.75,472.30" stroke="#ee8b36" stroke-width="1.3" fill="none" stroke-linejoin="round" stroke-linecap="round" />
<circle cx="85.27" cy="391.90" r="2.5" fill="#fff" stroke="#ee8b36" stroke-width="1.1"/>
<circle cx="125.14" cy="462.30" r="2.5" fill="#fff" stroke="#ee8b36" stroke-width="1.1"/>
<circle cx="165.01" cy="470.50" r="2.5" fill="#fff" stroke="#ee8b36" stroke-width="1.1"/>
<circle cx="204.88" cy="472.10" r="2.5" fill="#fff" stroke="#ee8b36" stroke-width="1.1"/>
<circle cx="244.75" cy="472.30" r="2.5" fill="#fff" stroke="#ee8b36" stroke-width="1.1"/>
<polyline points="85.27,414.10 125.14,437.80 165.01,449.50 204.88,455.00 244.75,459.00" stroke="#86be4c" stroke-width="1.3" fill="none" stroke-linejoin="round" stroke-linecap="round" />
<circle cx="85.27" cy="414.10" r="2.5" fill="#fff" stroke="#86be4c" stroke-width="1.1"/>
<circle cx="125.14" cy="437.80" r="2.5" fill="#fff" stroke="#86be4c" stroke-width="1.1"/>
<circle cx="165.01" cy="449.50" r="2.5" fill="#fff" stroke="#86be4c" stroke-width="1.1"/>
<circle cx="204.88" cy="455.00" r="2.5" fill="#fff" stroke="#86be4c" stroke-width="1.1"/>
<circle cx="244.75" cy="459.00" r="2.5" fill="#fff" stroke="#86be4c" stroke-width="1.1"/>
<polyline points="85.27,312.30 125.14,354.50 165.01,388.70 204.88,408.60 244.75,409.00" stroke="#4fb4c9" stroke-width="1.3" fill="none" stroke-linejoin="round" stroke-linecap="round" />
<circle cx="85.27" cy="312.30" r="2.5" fill="#fff" stroke="#4fb4c9" stroke-width="1.1"/>
<circle cx="125.14" cy="354.50" r="2.5" fill="#fff" stroke="#4fb4c9" stroke-width="1.1"/>
<circle cx="165.01" cy="388.70" r="2.5" fill="#fff" stroke="#4fb4c9" stroke-width="1.1"/>
<circle cx="204.88" cy="408.60" r="2.5" fill="#fff" stroke="#4fb4c9" stroke-width="1.1"/>
<circle cx="244.75" cy="409.00" r="2.5" fill="#fff" stroke="#4fb4c9" stroke-width="1.1"/>
<line x1="42.10" y1="473.50" x2="45.40" y2="473.50" stroke="#333" stroke-width="1.0" />
<text x="39.60" y="477.90" font-size="12.3" text-anchor="end" fill="#231f20" stroke="#231f20" stroke-width="0.22" >0</text>
<line x1="42.10" y1="437.50" x2="45.40" y2="437.50" stroke="#333" stroke-width="1.0" />
<text x="39.60" y="441.90" font-size="12.3" text-anchor="end" fill="#231f20" stroke="#231f20" stroke-width="0.22" >5</text>
<line x1="42.10" y1="401.50" x2="45.40" y2="401.50" stroke="#333" stroke-width="1.0" />
<text x="39.60" y="405.90" font-size="12.3" text-anchor="end" fill="#231f20" stroke="#231f20" stroke-width="0.22" >10</text>
<line x1="42.10" y1="365.50" x2="45.40" y2="365.50" stroke="#333" stroke-width="1.0" />
<text x="39.60" y="369.90" font-size="12.3" text-anchor="end" fill="#231f20" stroke="#231f20" stroke-width="0.22" >15</text>
<line x1="42.10" y1="329.50" x2="45.40" y2="329.50" stroke="#333" stroke-width="1.0" />
<text x="39.60" y="333.90" font-size="12.3" text-anchor="end" fill="#231f20" stroke="#231f20" stroke-width="0.22" >20</text>
<line x1="42.10" y1="293.50" x2="45.40" y2="293.50" stroke="#333" stroke-width="1.0" />
<text x="39.60" y="297.90" font-size="12.3" text-anchor="end" fill="#231f20" stroke="#231f20" stroke-width="0.22" >25</text>
<line x1="45.40" y1="481.40" x2="45.40" y2="484.30" stroke="#333" stroke-width="1.0" />
<text x="44.10" y="498.20" font-size="12.3" text-anchor="middle" fill="#231f20" stroke="#231f20" stroke-width="0.22" >&#8722;0.65</text>
<line x1="85.27" y1="481.40" x2="85.27" y2="484.30" stroke="#333" stroke-width="1.0" />
<text x="83.71" y="498.20" font-size="12.3" text-anchor="middle" fill="#231f20" stroke="#231f20" stroke-width="0.22" >&#8722;0.70</text>
<line x1="125.14" y1="481.40" x2="125.14" y2="484.30" stroke="#333" stroke-width="1.0" />
<text x="123.32" y="498.20" font-size="12.3" text-anchor="middle" fill="#231f20" stroke="#231f20" stroke-width="0.22" >&#8722;0.75</text>
<line x1="165.01" y1="481.40" x2="165.01" y2="484.30" stroke="#333" stroke-width="1.0" />
<text x="162.93" y="498.20" font-size="12.3" text-anchor="middle" fill="#231f20" stroke="#231f20" stroke-width="0.22" >&#8722;0.80</text>
<line x1="204.88" y1="481.40" x2="204.88" y2="484.30" stroke="#333" stroke-width="1.0" />
<text x="202.54" y="498.20" font-size="12.3" text-anchor="middle" fill="#231f20" stroke="#231f20" stroke-width="0.22" >&#8722;0.85</text>
<line x1="244.75" y1="481.40" x2="244.75" y2="484.30" stroke="#333" stroke-width="1.0" />
<text x="242.15" y="498.20" font-size="12.3" text-anchor="middle" fill="#231f20" stroke="#231f20" stroke-width="0.22" >&#8722;0.90</text>
<line x1="284.62" y1="481.40" x2="284.62" y2="484.30" stroke="#333" stroke-width="1.0" />
<text x="281.76" y="498.20" font-size="12.3" text-anchor="middle" fill="#231f20" stroke="#231f20" stroke-width="0.22" >&#8722;0.95</text>
<line x1="205.10" y1="305.80" x2="227.40" y2="305.80" stroke="#6cc4d6" stroke-width="1.5" />
<text x="235.40" y="309.90" font-size="11.1" text-anchor="start" fill="#231f20" stroke="#231f20" stroke-width="0.22" >DHDMA</text>
<line x1="205.10" y1="321.40" x2="227.40" y2="321.40" stroke="#8cc152" stroke-width="1.5" />
<text x="235.40" y="325.00" font-size="11.1" text-anchor="start" fill="#231f20" stroke="#231f20" stroke-width="0.22" >Choline</text>
<line x1="205.10" y1="337.20" x2="227.40" y2="337.20" stroke="#f2c832" stroke-width="1.5" />
<text x="235.40" y="341.60" font-size="11.1" text-anchor="start" fill="#231f20" stroke="#231f20" stroke-width="0.22" >TMA</text>
<line x1="205.10" y1="353.20" x2="227.40" y2="353.20" stroke="#f0923a" stroke-width="1.5" />
<text x="235.40" y="357.30" font-size="11.1" text-anchor="start" fill="#231f20" stroke="#231f20" stroke-width="0.22" >DEDMA</text>
<text x="-0.90" y="284.50" font-size="19" text-anchor="start" fill="#231f20" stroke="#231f20" stroke-width="0.22" >(c)</text>
<text x="0" y="0" font-size="12.4" fill="#231f20" stroke="#231f20" stroke-width="0.22" transform="translate(18.3,445.2) rotate(-90)">C<tspan font-size="8.8" dy="2.5">2</tspan><tspan dy="-2.5">H</tspan><tspan font-size="8.5" dy="2.5">4</tspan><tspan dy="-2.5">/CH</tspan><tspan font-size="8.5" dy="2.5">4</tspan><tspan dy="-2.5"> FE ratios</tspan></text>
<text x="163.4" y="514" font-size="13.0" text-anchor="middle" fill="#231f20" stroke="#231f20" stroke-width="0.22"><tspan font-style="italic">E</tspan> (V vs. RHE)</text>
<circle cx="452.0" cy="391.0" r="1.3" fill="none" stroke="#f5c5a2" stroke-width="0.9"/>
<circle cx="454.3" cy="390.3" r="1.3" fill="none" stroke="#f5c5a2" stroke-width="0.9"/>
<circle cx="456.6" cy="389.7" r="1.3" fill="none" stroke="#f5c5a2" stroke-width="0.9"/>
<circle cx="458.9" cy="389.0" r="1.3" fill="none" stroke="#f5c5a2" stroke-width="0.9"/>
<circle cx="461.2" cy="388.3" r="1.3" fill="none" stroke="#f5c5a2" stroke-width="0.9"/>
<circle cx="463.5" cy="387.5" r="1.3" fill="none" stroke="#f5c5a2" stroke-width="0.9"/>
<circle cx="465.8" cy="386.8" r="1.3" fill="none" stroke="#f5c5a2" stroke-width="0.9"/>
<circle cx="468.0" cy="386.0" r="1.3" fill="none" stroke="#f5c5a2" stroke-width="0.9"/>
<circle cx="470.3" cy="385.3" r="1.3" fill="none" stroke="#f5c5a2" stroke-width="0.9"/>
<circle cx="472.6" cy="384.5" r="1.3" fill="none" stroke="#f5c5a2" stroke-width="0.9"/>
<circle cx="474.9" cy="383.9" r="1.3" fill="none" stroke="#f5c5a2" stroke-width="0.9"/>
<circle cx="477.2" cy="383.2" r="1.3" fill="none" stroke="#f5c5a2" stroke-width="0.9"/>
<circle cx="479.5" cy="382.6" r="1.3" fill="none" stroke="#f5c5a2" stroke-width="0.9"/>
<circle cx="481.9" cy="382.0" r="1.3" fill="none" stroke="#f5c5a2" stroke-width="0.9"/>
<circle cx="484.2" cy="381.4" r="1.3" fill="none" stroke="#f5c5a2" stroke-width="0.9"/>
<circle cx="486.5" cy="380.8" r="1.3" fill="none" stroke="#f5c5a2" stroke-width="0.9"/>
<circle cx="488.8" cy="380.1" r="1.3" fill="none" stroke="#f5c5a2" stroke-width="0.9"/>
<circle cx="491.1" cy="379.4" r="1.3" fill="none" stroke="#f5c5a2" stroke-width="0.9"/>
<circle cx="493.4" cy="378.7" r="1.3" fill="none" stroke="#f5c5a2" stroke-width="0.9"/>
<circle cx="495.7" cy="378.0" r="1.3" fill="none" stroke="#f5c5a2" stroke-width="0.9"/>
<circle cx="498.0" cy="377.3" r="1.3" fill="none" stroke="#f5c5a2" stroke-width="0.9"/>
<circle cx="500.3" cy="376.6" r="1.3" fill="none" stroke="#f5c5a2" stroke-width="0.9"/>
<circle cx="502.6" cy="376.0" r="1.3" fill="none" stroke="#f5c5a2" stroke-width="0.9"/>
<circle cx="504.9" cy="375.4" r="1.3" fill="none" stroke="#f5c5a2" stroke-width="0.9"/>
<circle cx="507.3" cy="374.8" r="1.3" fill="none" stroke="#f5c5a2" stroke-width="0.9"/>
<circle cx="509.6" cy="374.2" r="1.3" fill="none" stroke="#f5c5a2" stroke-width="0.9"/>
<circle cx="511.9" cy="373.7" r="1.3" fill="none" stroke="#f5c5a2" stroke-width="0.9"/>
<circle cx="514.2" cy="373.1" r="1.3" fill="none" stroke="#f5c5a2" stroke-width="0.9"/>
<circle cx="516.6" cy="372.5" r="1.3" fill="none" stroke="#f5c5a2" stroke-width="0.9"/>
<circle cx="518.9" cy="371.8" r="1.3" fill="none" stroke="#f5c5a2" stroke-width="0.9"/>
<circle cx="521.2" cy="371.2" r="1.3" fill="none" stroke="#f5c5a2" stroke-width="0.9"/>
<circle cx="523.5" cy="370.5" r="1.3" fill="none" stroke="#f5c5a2" stroke-width="0.9"/>
<circle cx="525.8" cy="369.8" r="1.3" fill="none" stroke="#f5c5a2" stroke-width="0.9"/>
<circle cx="528.1" cy="369.2" r="1.3" fill="none" stroke="#f5c5a2" stroke-width="0.9"/>
<circle cx="530.4" cy="368.5" r="1.3" fill="none" stroke="#f5c5a2" stroke-width="0.9"/>
<circle cx="532.7" cy="367.9" r="1.3" fill="none" stroke="#f5c5a2" stroke-width="0.9"/>
<circle cx="535.1" cy="367.4" r="1.3" fill="none" stroke="#f5c5a2" stroke-width="0.9"/>
<circle cx="537.4" cy="366.8" r="1.3" fill="none" stroke="#f5c5a2" stroke-width="0.9"/>
<circle cx="539.7" cy="366.3" r="1.3" fill="none" stroke="#f5c5a2" stroke-width="0.9"/>
<circle cx="542.1" cy="365.7" r="1.3" fill="none" stroke="#f5c5a2" stroke-width="0.9"/>
<circle cx="544.4" cy="365.2" r="1.3" fill="none" stroke="#f5c5a2" stroke-width="0.9"/>
<circle cx="546.7" cy="364.6" r="1.3" fill="none" stroke="#f5c5a2" stroke-width="0.9"/>
<circle cx="549.1" cy="364.0" r="1.3" fill="none" stroke="#f5c5a2" stroke-width="0.9"/>
<circle cx="551.4" cy="363.5" r="1.3" fill="none" stroke="#f5c5a2" stroke-width="0.9"/>
<circle cx="553.8" cy="362.9" r="1.3" fill="none" stroke="#f5c5a2" stroke-width="0.9"/>
<circle cx="556.1" cy="362.4" r="1.3" fill="none" stroke="#f5c5a2" stroke-width="0.9"/>
<circle cx="558.4" cy="361.8" r="1.3" fill="none" stroke="#f5c5a2" stroke-width="0.9"/>
<circle cx="565.3" cy="361.1" r="1.3" fill="none" stroke="#f5c5a2" stroke-width="0.9"/>
<circle cx="567.6" cy="360.5" r="1.3" fill="none" stroke="#f5c5a2" stroke-width="0.9"/>
<circle cx="569.9" cy="359.9" r="1.3" fill="none" stroke="#f5c5a2" stroke-width="0.9"/>
<circle cx="572.3" cy="359.3" r="1.3" fill="none" stroke="#f5c5a2" stroke-width="0.9"/>
<circle cx="574.6" cy="358.7" r="1.3" fill="none" stroke="#f5c5a2" stroke-width="0.9"/>
<circle cx="576.9" cy="358.0" r="1.3" fill="none" stroke="#f5c5a2" stroke-width="0.9"/>
<circle cx="579.2" cy="357.4" r="1.3" fill="none" stroke="#f5c5a2" stroke-width="0.9"/>
<circle cx="581.5" cy="356.8" r="1.3" fill="none" stroke="#f5c5a2" stroke-width="0.9"/>
<circle cx="583.9" cy="356.2" r="1.3" fill="none" stroke="#f5c5a2" stroke-width="0.9"/>
<circle cx="586.2" cy="355.6" r="1.3" fill="none" stroke="#f5c5a2" stroke-width="0.9"/>
<circle cx="588.5" cy="355.0" r="1.3" fill="none" stroke="#f5c5a2" stroke-width="0.9"/>
<circle cx="590.8" cy="354.4" r="1.3" fill="none" stroke="#f5c5a2" stroke-width="0.9"/>
<circle cx="593.2" cy="353.8" r="1.3" fill="none" stroke="#f5c5a2" stroke-width="0.9"/>
<circle cx="595.5" cy="353.2" r="1.3" fill="none" stroke="#f5c5a2" stroke-width="0.9"/>
<circle cx="597.8" cy="352.5" r="1.3" fill="none" stroke="#f5c5a2" stroke-width="0.9"/>
<circle cx="600.1" cy="351.9" r="1.3" fill="none" stroke="#f5c5a2" stroke-width="0.9"/>
<circle cx="602.4" cy="351.3" r="1.3" fill="none" stroke="#f5c5a2" stroke-width="0.9"/>
<circle cx="604.8" cy="350.7" r="1.3" fill="none" stroke="#f5c5a2" stroke-width="0.9"/>
<circle cx="607.1" cy="350.1" r="1.3" fill="none" stroke="#f5c5a2" stroke-width="0.9"/>
<circle cx="436.0" cy="408.0" r="1.8" fill="none" stroke="#eed358" stroke-width="1.0"/>
<circle cx="437.0" cy="406.7" r="1.8" fill="none" stroke="#eed358" stroke-width="1.0"/>
<circle cx="437.9" cy="405.5" r="1.8" fill="none" stroke="#eed358" stroke-width="1.0"/>
<circle cx="438.9" cy="404.2" r="1.8" fill="none" stroke="#eed358" stroke-width="1.0"/>
<circle cx="440.0" cy="403.0" r="1.8" fill="none" stroke="#eed358" stroke-width="1.0"/>
<circle cx="441.2" cy="401.9" r="1.8" fill="none" stroke="#eed358" stroke-width="1.0"/>
<circle cx="442.4" cy="400.9" r="1.8" fill="none" stroke="#eed358" stroke-width="1.0"/>
<circle cx="443.6" cy="399.8" r="1.8" fill="none" stroke="#eed358" stroke-width="1.0"/>
<circle cx="444.8" cy="398.8" r="1.8" fill="none" stroke="#eed358" stroke-width="1.0"/>
<circle cx="446.0" cy="397.7" r="1.8" fill="none" stroke="#eed358" stroke-width="1.0"/>
<circle cx="447.2" cy="396.7" r="1.8" fill="none" stroke="#eed358" stroke-width="1.0"/>
<circle cx="448.5" cy="395.7" r="1.8" fill="none" stroke="#eed358" stroke-width="1.0"/>
<circle cx="449.8" cy="394.8" r="1.8" fill="none" stroke="#eed358" stroke-width="1.0"/>
<circle cx="451.1" cy="393.9" r="1.8" fill="none" stroke="#eed358" stroke-width="1.0"/>
<circle cx="452.5" cy="393.0" r="1.8" fill="none" stroke="#eed358" stroke-width="1.0"/>
<circle cx="453.8" cy="392.1" r="1.8" fill="none" stroke="#eed358" stroke-width="1.0"/>
<circle cx="455.2" cy="391.3" r="1.8" fill="none" stroke="#eed358" stroke-width="1.0"/>
<circle cx="456.5" cy="390.4" r="1.8" fill="none" stroke="#eed358" stroke-width="1.0"/>
<circle cx="457.9" cy="389.6" r="1.8" fill="none" stroke="#eed358" stroke-width="1.0"/>
<circle cx="459.3" cy="388.8" r="1.8" fill="none" stroke="#eed358" stroke-width="1.0"/>
<circle cx="460.7" cy="388.1" r="1.8" fill="none" stroke="#eed358" stroke-width="1.0"/>
<circle cx="462.1" cy="387.3" r="1.8" fill="none" stroke="#eed358" stroke-width="1.0"/>
<circle cx="463.5" cy="386.6" r="1.8" fill="none" stroke="#eed358" stroke-width="1.0"/>
<circle cx="465.0" cy="385.9" r="1.8" fill="none" stroke="#eed358" stroke-width="1.0"/>
<circle cx="466.4" cy="385.1" r="1.8" fill="none" stroke="#eed358" stroke-width="1.0"/>
<circle cx="467.8" cy="384.4" r="1.8" fill="none" stroke="#eed358" stroke-width="1.0"/>
<circle cx="469.2" cy="383.7" r="1.8" fill="none" stroke="#eed358" stroke-width="1.0"/>
<circle cx="470.7" cy="383.0" r="1.8" fill="none" stroke="#eed358" stroke-width="1.0"/>
<circle cx="472.1" cy="382.3" r="1.8" fill="none" stroke="#eed358" stroke-width="1.0"/>
<circle cx="473.6" cy="381.6" r="1.8" fill="none" stroke="#eed358" stroke-width="1.0"/>
<circle cx="475.0" cy="381.0" r="1.8" fill="none" stroke="#eed358" stroke-width="1.0"/>
<circle cx="476.6" cy="380.5" r="1.8" fill="none" stroke="#eed358" stroke-width="1.0"/>
<circle cx="478.1" cy="379.9" r="1.8" fill="none" stroke="#eed358" stroke-width="1.0"/>
<circle cx="479.6" cy="379.4" r="1.8" fill="none" stroke="#eed358" stroke-width="1.0"/>
<circle cx="481.1" cy="378.9" r="1.8" fill="none" stroke="#eed358" stroke-width="1.0"/>
<circle cx="482.6" cy="378.4" r="1.8" fill="none" stroke="#eed358" stroke-width="1.0"/>
<circle cx="484.1" cy="377.8" r="1.8" fill="none" stroke="#eed358" stroke-width="1.0"/>
<circle cx="485.6" cy="377.2" r="1.8" fill="none" stroke="#eed358" stroke-width="1.0"/>
<circle cx="487.0" cy="376.6" r="1.8" fill="none" stroke="#eed358" stroke-width="1.0"/>
<circle cx="488.5" cy="375.8" r="1.8" fill="none" stroke="#eed358" stroke-width="1.0"/>
<circle cx="489.9" cy="375.1" r="1.8" fill="none" stroke="#eed358" stroke-width="1.0"/>
<circle cx="491.3" cy="374.4" r="1.8" fill="none" stroke="#eed358" stroke-width="1.0"/>
<circle cx="492.8" cy="373.7" r="1.8" fill="none" stroke="#eed358" stroke-width="1.0"/>
<circle cx="494.2" cy="373.1" r="1.8" fill="none" stroke="#eed358" stroke-width="1.0"/>
<circle cx="495.7" cy="372.5" r="1.8" fill="none" stroke="#eed358" stroke-width="1.0"/>
<circle cx="497.2" cy="372.0" r="1.8" fill="none" stroke="#eed358" stroke-width="1.0"/>
<circle cx="498.8" cy="371.5" r="1.8" fill="none" stroke="#eed358" stroke-width="1.0"/>
<circle cx="500.3" cy="371.0" r="1.8" fill="none" stroke="#eed358" stroke-width="1.0"/>
<circle cx="501.8" cy="370.4" r="1.8" fill="none" stroke="#eed358" stroke-width="1.0"/>
<circle cx="503.3" cy="369.9" r="1.8" fill="none" stroke="#eed358" stroke-width="1.0"/>
<circle cx="504.8" cy="369.4" r="1.8" fill="none" stroke="#eed358" stroke-width="1.0"/>
<circle cx="506.3" cy="368.9" r="1.8" fill="none" stroke="#eed358" stroke-width="1.0"/>
<circle cx="507.8" cy="368.4" r="1.8" fill="none" stroke="#eed358" stroke-width="1.0"/>
<circle cx="509.3" cy="367.8" r="1.8" fill="none" stroke="#eed358" stroke-width="1.0"/>
<circle cx="510.8" cy="367.1" r="1.8" fill="none" stroke="#eed358" stroke-width="1.0"/>
<circle cx="512.2" cy="366.5" r="1.8" fill="none" stroke="#eed358" stroke-width="1.0"/>
<circle cx="513.7" cy="365.8" r="1.8" fill="none" stroke="#eed358" stroke-width="1.0"/>
<circle cx="515.1" cy="365.1" r="1.8" fill="none" stroke="#eed358" stroke-width="1.0"/>
<circle cx="516.6" cy="364.3" r="1.8" fill="none" stroke="#eed358" stroke-width="1.0"/>
<circle cx="518.0" cy="363.6" r="1.8" fill="none" stroke="#eed358" stroke-width="1.0"/>
<circle cx="519.4" cy="362.9" r="1.8" fill="none" stroke="#eed358" stroke-width="1.0"/>
<circle cx="520.8" cy="362.2" r="1.8" fill="none" stroke="#eed358" stroke-width="1.0"/>
<circle cx="522.3" cy="361.5" r="1.8" fill="none" stroke="#eed358" stroke-width="1.0"/>
<circle cx="523.7" cy="360.7" r="1.8" fill="none" stroke="#eed358" stroke-width="1.0"/>
<circle cx="525.1" cy="359.9" r="1.8" fill="none" stroke="#eed358" stroke-width="1.0"/>
<circle cx="526.4" cy="359.1" r="1.8" fill="none" stroke="#eed358" stroke-width="1.0"/>
<circle cx="527.7" cy="358.1" r="1.8" fill="none" stroke="#eed358" stroke-width="1.0"/>
<circle cx="529.0" cy="357.2" r="1.8" fill="none" stroke="#eed358" stroke-width="1.0"/>
<circle cx="530.4" cy="356.4" r="1.8" fill="none" stroke="#eed358" stroke-width="1.0"/>
<circle cx="531.8" cy="355.7" r="1.8" fill="none" stroke="#eed358" stroke-width="1.0"/>
<circle cx="533.3" cy="355.0" r="1.8" fill="none" stroke="#eed358" stroke-width="1.0"/>
<circle cx="534.8" cy="354.5" r="1.8" fill="none" stroke="#eed358" stroke-width="1.0"/>
<circle cx="536.3" cy="353.9" r="1.8" fill="none" stroke="#eed358" stroke-width="1.0"/>
<circle cx="537.8" cy="353.4" r="1.8" fill="none" stroke="#eed358" stroke-width="1.0"/>
<circle cx="539.4" cy="353.0" r="1.8" fill="none" stroke="#eed358" stroke-width="1.0"/>
<circle cx="540.9" cy="352.6" r="1.8" fill="none" stroke="#eed358" stroke-width="1.0"/>
<circle cx="542.4" cy="352.0" r="1.8" fill="none" stroke="#eed358" stroke-width="1.0"/>
<circle cx="543.8" cy="351.3" r="1.8" fill="none" stroke="#eed358" stroke-width="1.0"/>
<circle cx="545.3" cy="350.6" r="1.8" fill="none" stroke="#eed358" stroke-width="1.0"/>
<circle cx="546.7" cy="349.9" r="1.8" fill="none" stroke="#eed358" stroke-width="1.0"/>
<circle cx="548.1" cy="349.1" r="1.8" fill="none" stroke="#eed358" stroke-width="1.0"/>
<circle cx="549.4" cy="348.2" r="1.8" fill="none" stroke="#eed358" stroke-width="1.0"/>
<circle cx="550.6" cy="347.1" r="1.8" fill="none" stroke="#eed358" stroke-width="1.0"/>
<circle cx="551.9" cy="346.2" r="1.8" fill="none" stroke="#eed358" stroke-width="1.0"/>
<circle cx="553.5" cy="345.8" r="1.8" fill="none" stroke="#eed358" stroke-width="1.0"/>
<circle cx="555.1" cy="345.6" r="1.8" fill="none" stroke="#eed358" stroke-width="1.0"/>
<circle cx="556.6" cy="345.3" r="1.8" fill="none" stroke="#eed358" stroke-width="1.0"/>
<circle cx="558.1" cy="344.6" r="1.8" fill="none" stroke="#eed358" stroke-width="1.0"/>
<circle cx="559.5" cy="343.8" r="1.8" fill="none" stroke="#eed358" stroke-width="1.0"/>
<circle cx="560.8" cy="343.0" r="1.8" fill="none" stroke="#eed358" stroke-width="1.0"/>
<circle cx="562.2" cy="342.2" r="1.8" fill="none" stroke="#eed358" stroke-width="1.0"/>
<circle cx="563.6" cy="341.4" r="1.8" fill="none" stroke="#eed358" stroke-width="1.0"/>
<circle cx="565.1" cy="340.7" r="1.8" fill="none" stroke="#eed358" stroke-width="1.0"/>
<circle cx="566.5" cy="340.0" r="1.8" fill="none" stroke="#eed358" stroke-width="1.0"/>
<circle cx="567.9" cy="339.3" r="1.8" fill="none" stroke="#eed358" stroke-width="1.0"/>
<circle cx="569.4" cy="338.6" r="1.8" fill="none" stroke="#eed358" stroke-width="1.0"/>
<circle cx="570.8" cy="338.0" r="1.8" fill="none" stroke="#eed358" stroke-width="1.0"/>
<circle cx="572.3" cy="337.3" r="1.8" fill="none" stroke="#eed358" stroke-width="1.0"/>
<circle cx="437.0" cy="403.0" r="1.65" fill="none" stroke="#9acb60" stroke-width="1.0"/>
<circle cx="437.9" cy="401.9" r="1.65" fill="none" stroke="#9acb60" stroke-width="1.0"/>
<circle cx="438.8" cy="400.9" r="1.65" fill="none" stroke="#9acb60" stroke-width="1.0"/>
<circle cx="439.7" cy="399.8" r="1.65" fill="none" stroke="#9acb60" stroke-width="1.0"/>
<circle cx="440.6" cy="398.7" r="1.65" fill="none" stroke="#9acb60" stroke-width="1.0"/>
<circle cx="441.6" cy="397.7" r="1.65" fill="none" stroke="#9acb60" stroke-width="1.0"/>
<circle cx="442.5" cy="396.6" r="1.65" fill="none" stroke="#9acb60" stroke-width="1.0"/>
<circle cx="443.4" cy="395.6" r="1.65" fill="none" stroke="#9acb60" stroke-width="1.0"/>
<circle cx="444.4" cy="394.6" r="1.65" fill="none" stroke="#9acb60" stroke-width="1.0"/>
<circle cx="445.4" cy="393.6" r="1.65" fill="none" stroke="#9acb60" stroke-width="1.0"/>
<circle cx="446.4" cy="392.6" r="1.65" fill="none" stroke="#9acb60" stroke-width="1.0"/>
<circle cx="447.5" cy="391.7" r="1.65" fill="none" stroke="#9acb60" stroke-width="1.0"/>
<circle cx="448.6" cy="390.9" r="1.65" fill="none" stroke="#9acb60" stroke-width="1.0"/>
<circle cx="449.7" cy="390.1" r="1.65" fill="none" stroke="#9acb60" stroke-width="1.0"/>
<circle cx="450.9" cy="389.4" r="1.65" fill="none" stroke="#9acb60" stroke-width="1.0"/>
<circle cx="452.1" cy="388.6" r="1.65" fill="none" stroke="#9acb60" stroke-width="1.0"/>
<circle cx="453.3" cy="387.9" r="1.65" fill="none" stroke="#9acb60" stroke-width="1.0"/>
<circle cx="454.5" cy="387.2" r="1.65" fill="none" stroke="#9acb60" stroke-width="1.0"/>
<circle cx="455.7" cy="386.5" r="1.65" fill="none" stroke="#9acb60" stroke-width="1.0"/>
<circle cx="456.9" cy="385.8" r="1.65" fill="none" stroke="#9acb60" stroke-width="1.0"/>
<circle cx="458.2" cy="385.1" r="1.65" fill="none" stroke="#9acb60" stroke-width="1.0"/>
<circle cx="459.4" cy="384.4" r="1.65" fill="none" stroke="#9acb60" stroke-width="1.0"/>
<circle cx="460.6" cy="383.7" r="1.65" fill="none" stroke="#9acb60" stroke-width="1.0"/>
<circle cx="461.8" cy="382.9" r="1.65" fill="none" stroke="#9acb60" stroke-width="1.0"/>
<circle cx="462.9" cy="382.1" r="1.65" fill="none" stroke="#9acb60" stroke-width="1.0"/>
<circle cx="464.0" cy="381.2" r="1.65" fill="none" stroke="#9acb60" stroke-width="1.0"/>
<circle cx="465.1" cy="380.3" r="1.65" fill="none" stroke="#9acb60" stroke-width="1.0"/>
<circle cx="466.2" cy="379.5" r="1.65" fill="none" stroke="#9acb60" stroke-width="1.0"/>
<circle cx="467.4" cy="378.8" r="1.65" fill="none" stroke="#9acb60" stroke-width="1.0"/>
<circle cx="468.7" cy="378.2" r="1.65" fill="none" stroke="#9acb60" stroke-width="1.0"/>
<circle cx="469.9" cy="377.6" r="1.65" fill="none" stroke="#9acb60" stroke-width="1.0"/>
<circle cx="471.2" cy="376.9" r="1.65" fill="none" stroke="#9acb60" stroke-width="1.0"/>
<circle cx="472.4" cy="376.3" r="1.65" fill="none" stroke="#9acb60" stroke-width="1.0"/>
<circle cx="473.7" cy="375.7" r="1.65" fill="none" stroke="#9acb60" stroke-width="1.0"/>
<circle cx="475.0" cy="375.1" r="1.65" fill="none" stroke="#9acb60" stroke-width="1.0"/>
<circle cx="476.2" cy="374.6" r="1.65" fill="none" stroke="#9acb60" stroke-width="1.0"/>
<circle cx="477.5" cy="374.0" r="1.65" fill="none" stroke="#9acb60" stroke-width="1.0"/>
<circle cx="478.8" cy="373.5" r="1.65" fill="none" stroke="#9acb60" stroke-width="1.0"/>
<circle cx="480.2" cy="373.0" r="1.65" fill="none" stroke="#9acb60" stroke-width="1.0"/>
<circle cx="481.5" cy="372.6" r="1.65" fill="none" stroke="#9acb60" stroke-width="1.0"/>
<circle cx="482.8" cy="372.1" r="1.65" fill="none" stroke="#9acb60" stroke-width="1.0"/>
<circle cx="484.1" cy="371.6" r="1.65" fill="none" stroke="#9acb60" stroke-width="1.0"/>
<circle cx="485.4" cy="371.0" r="1.65" fill="none" stroke="#9acb60" stroke-width="1.0"/>
<circle cx="486.7" cy="370.4" r="1.65" fill="none" stroke="#9acb60" stroke-width="1.0"/>
<circle cx="487.9" cy="369.8" r="1.65" fill="none" stroke="#9acb60" stroke-width="1.0"/>
<circle cx="489.2" cy="369.2" r="1.65" fill="none" stroke="#9acb60" stroke-width="1.0"/>
<circle cx="490.4" cy="368.6" r="1.65" fill="none" stroke="#9acb60" stroke-width="1.0"/>
<circle cx="491.7" cy="368.0" r="1.65" fill="none" stroke="#9acb60" stroke-width="1.0"/>
<circle cx="493.0" cy="367.4" r="1.65" fill="none" stroke="#9acb60" stroke-width="1.0"/>
<circle cx="494.2" cy="366.9" r="1.65" fill="none" stroke="#9acb60" stroke-width="1.0"/>
<circle cx="495.5" cy="366.3" r="1.65" fill="none" stroke="#9acb60" stroke-width="1.0"/>
<circle cx="496.8" cy="365.8" r="1.65" fill="none" stroke="#9acb60" stroke-width="1.0"/>
<circle cx="498.2" cy="365.3" r="1.65" fill="none" stroke="#9acb60" stroke-width="1.0"/>
<circle cx="499.5" cy="364.8" r="1.65" fill="none" stroke="#9acb60" stroke-width="1.0"/>
<circle cx="500.8" cy="364.3" r="1.65" fill="none" stroke="#9acb60" stroke-width="1.0"/>
<circle cx="502.1" cy="363.8" r="1.65" fill="none" stroke="#9acb60" stroke-width="1.0"/>
<circle cx="503.4" cy="363.3" r="1.65" fill="none" stroke="#9acb60" stroke-width="1.0"/>
<circle cx="504.7" cy="362.8" r="1.65" fill="none" stroke="#9acb60" stroke-width="1.0"/>
<circle cx="506.0" cy="362.2" r="1.65" fill="none" stroke="#9acb60" stroke-width="1.0"/>
<circle cx="507.3" cy="361.7" r="1.65" fill="none" stroke="#9acb60" stroke-width="1.0"/>
<circle cx="508.5" cy="361.1" r="1.65" fill="none" stroke="#9acb60" stroke-width="1.0"/>
<circle cx="509.8" cy="360.5" r="1.65" fill="none" stroke="#9acb60" stroke-width="1.0"/>
<circle cx="511.0" cy="359.9" r="1.65" fill="none" stroke="#9acb60" stroke-width="1.0"/>
<circle cx="512.3" cy="359.2" r="1.65" fill="none" stroke="#9acb60" stroke-width="1.0"/>
<circle cx="513.5" cy="358.5" r="1.65" fill="none" stroke="#9acb60" stroke-width="1.0"/>
<circle cx="514.7" cy="357.7" r="1.65" fill="none" stroke="#9acb60" stroke-width="1.0"/>
<circle cx="515.9" cy="357.0" r="1.65" fill="none" stroke="#9acb60" stroke-width="1.0"/>
<circle cx="517.0" cy="356.3" r="1.65" fill="none" stroke="#9acb60" stroke-width="1.0"/>
<circle cx="518.2" cy="355.5" r="1.65" fill="none" stroke="#9acb60" stroke-width="1.0"/>
<circle cx="519.4" cy="354.8" r="1.65" fill="none" stroke="#9acb60" stroke-width="1.0"/>
<circle cx="520.6" cy="354.1" r="1.65" fill="none" stroke="#9acb60" stroke-width="1.0"/>
<circle cx="521.9" cy="353.4" r="1.65" fill="none" stroke="#9acb60" stroke-width="1.0"/>
<circle cx="523.1" cy="352.7" r="1.65" fill="none" stroke="#9acb60" stroke-width="1.0"/>
<circle cx="524.3" cy="352.1" r="1.65" fill="none" stroke="#9acb60" stroke-width="1.0"/>
<circle cx="525.5" cy="351.4" r="1.65" fill="none" stroke="#9acb60" stroke-width="1.0"/>
<circle cx="526.8" cy="350.7" r="1.65" fill="none" stroke="#9acb60" stroke-width="1.0"/>
<circle cx="528.0" cy="350.1" r="1.65" fill="none" stroke="#9acb60" stroke-width="1.0"/>
<circle cx="529.2" cy="349.4" r="1.65" fill="none" stroke="#9acb60" stroke-width="1.0"/>
<circle cx="530.4" cy="348.6" r="1.65" fill="none" stroke="#9acb60" stroke-width="1.0"/>
<circle cx="531.6" cy="347.9" r="1.65" fill="none" stroke="#9acb60" stroke-width="1.0"/>
<circle cx="532.8" cy="347.2" r="1.65" fill="none" stroke="#9acb60" stroke-width="1.0"/>
<circle cx="534.0" cy="346.4" r="1.65" fill="none" stroke="#9acb60" stroke-width="1.0"/>
<circle cx="535.0" cy="345.5" r="1.65" fill="none" stroke="#9acb60" stroke-width="1.0"/>
<circle cx="536.0" cy="344.4" r="1.65" fill="none" stroke="#9acb60" stroke-width="1.0"/>
<circle cx="536.8" cy="343.3" r="1.65" fill="none" stroke="#9acb60" stroke-width="1.0"/>
<circle cx="431.2" cy="421.0" r="1.55" fill="none" stroke="#52bfd2" stroke-width="1.05"/>
<circle cx="431.3" cy="420.1" r="1.55" fill="none" stroke="#52bfd2" stroke-width="1.05"/>
<circle cx="431.5" cy="419.2" r="1.55" fill="none" stroke="#52bfd2" stroke-width="1.05"/>
<circle cx="431.6" cy="418.3" r="1.55" fill="none" stroke="#52bfd2" stroke-width="1.05"/>
<circle cx="431.7" cy="417.4" r="1.55" fill="none" stroke="#52bfd2" stroke-width="1.05"/>
<circle cx="431.9" cy="416.6" r="1.55" fill="none" stroke="#52bfd2" stroke-width="1.05"/>
<circle cx="432.1" cy="415.7" r="1.55" fill="none" stroke="#52bfd2" stroke-width="1.05"/>
<circle cx="432.3" cy="414.8" r="1.55" fill="none" stroke="#52bfd2" stroke-width="1.05"/>
<circle cx="432.5" cy="413.9" r="1.55" fill="none" stroke="#52bfd2" stroke-width="1.05"/>
<circle cx="432.8" cy="413.1" r="1.55" fill="none" stroke="#52bfd2" stroke-width="1.05"/>
<circle cx="433.1" cy="412.2" r="1.55" fill="none" stroke="#52bfd2" stroke-width="1.05"/>
<circle cx="433.4" cy="411.4" r="1.55" fill="none" stroke="#52bfd2" stroke-width="1.05"/>
<circle cx="433.8" cy="410.6" r="1.55" fill="none" stroke="#52bfd2" stroke-width="1.05"/>
<circle cx="434.1" cy="409.7" r="1.55" fill="none" stroke="#52bfd2" stroke-width="1.05"/>
<circle cx="434.5" cy="408.9" r="1.55" fill="none" stroke="#52bfd2" stroke-width="1.05"/>
<circle cx="434.9" cy="408.1" r="1.55" fill="none" stroke="#52bfd2" stroke-width="1.05"/>
<circle cx="435.4" cy="407.3" r="1.55" fill="none" stroke="#52bfd2" stroke-width="1.05"/>
<circle cx="435.8" cy="406.5" r="1.55" fill="none" stroke="#52bfd2" stroke-width="1.05"/>
<circle cx="436.2" cy="405.8" r="1.55" fill="none" stroke="#52bfd2" stroke-width="1.05"/>
<circle cx="436.7" cy="405.0" r="1.55" fill="none" stroke="#52bfd2" stroke-width="1.05"/>
<circle cx="437.2" cy="404.2" r="1.55" fill="none" stroke="#52bfd2" stroke-width="1.05"/>
<circle cx="437.7" cy="403.5" r="1.55" fill="none" stroke="#52bfd2" stroke-width="1.05"/>
<circle cx="438.2" cy="402.7" r="1.55" fill="none" stroke="#52bfd2" stroke-width="1.05"/>
<circle cx="438.7" cy="402.0" r="1.55" fill="none" stroke="#52bfd2" stroke-width="1.05"/>
<circle cx="439.3" cy="401.3" r="1.55" fill="none" stroke="#52bfd2" stroke-width="1.05"/>
<circle cx="439.8" cy="400.6" r="1.55" fill="none" stroke="#52bfd2" stroke-width="1.05"/>
<circle cx="440.4" cy="399.9" r="1.55" fill="none" stroke="#52bfd2" stroke-width="1.05"/>
<circle cx="440.9" cy="399.2" r="1.55" fill="none" stroke="#52bfd2" stroke-width="1.05"/>
<circle cx="441.5" cy="398.5" r="1.55" fill="none" stroke="#52bfd2" stroke-width="1.05"/>
<circle cx="442.1" cy="397.8" r="1.55" fill="none" stroke="#52bfd2" stroke-width="1.05"/>
<circle cx="442.6" cy="397.1" r="1.55" fill="none" stroke="#52bfd2" stroke-width="1.05"/>
<circle cx="443.2" cy="396.4" r="1.55" fill="none" stroke="#52bfd2" stroke-width="1.05"/>
<circle cx="443.8" cy="395.7" r="1.55" fill="none" stroke="#52bfd2" stroke-width="1.05"/>
<circle cx="444.4" cy="395.0" r="1.55" fill="none" stroke="#52bfd2" stroke-width="1.05"/>
<circle cx="445.0" cy="394.3" r="1.55" fill="none" stroke="#52bfd2" stroke-width="1.05"/>
<circle cx="445.6" cy="393.7" r="1.55" fill="none" stroke="#52bfd2" stroke-width="1.05"/>
<circle cx="446.2" cy="393.0" r="1.55" fill="none" stroke="#52bfd2" stroke-width="1.05"/>
<circle cx="446.9" cy="392.4" r="1.55" fill="none" stroke="#52bfd2" stroke-width="1.05"/>
<circle cx="447.5" cy="391.8" r="1.55" fill="none" stroke="#52bfd2" stroke-width="1.05"/>
<circle cx="448.1" cy="391.1" r="1.55" fill="none" stroke="#52bfd2" stroke-width="1.05"/>
<circle cx="448.8" cy="390.5" r="1.55" fill="none" stroke="#52bfd2" stroke-width="1.05"/>
<circle cx="449.4" cy="389.9" r="1.55" fill="none" stroke="#52bfd2" stroke-width="1.05"/>
<circle cx="450.1" cy="389.3" r="1.55" fill="none" stroke="#52bfd2" stroke-width="1.05"/>
<circle cx="450.7" cy="388.6" r="1.55" fill="none" stroke="#52bfd2" stroke-width="1.05"/>
<circle cx="451.4" cy="388.0" r="1.55" fill="none" stroke="#52bfd2" stroke-width="1.05"/>
<circle cx="452.0" cy="387.4" r="1.55" fill="none" stroke="#52bfd2" stroke-width="1.05"/>
<circle cx="452.7" cy="386.8" r="1.55" fill="none" stroke="#52bfd2" stroke-width="1.05"/>
<circle cx="453.4" cy="386.2" r="1.55" fill="none" stroke="#52bfd2" stroke-width="1.05"/>
<circle cx="454.0" cy="385.6" r="1.55" fill="none" stroke="#52bfd2" stroke-width="1.05"/>
<circle cx="454.7" cy="385.0" r="1.55" fill="none" stroke="#52bfd2" stroke-width="1.05"/>
<circle cx="455.4" cy="384.4" r="1.55" fill="none" stroke="#52bfd2" stroke-width="1.05"/>
<circle cx="456.1" cy="383.8" r="1.55" fill="none" stroke="#52bfd2" stroke-width="1.05"/>
<circle cx="456.7" cy="383.2" r="1.55" fill="none" stroke="#52bfd2" stroke-width="1.05"/>
<circle cx="457.4" cy="382.6" r="1.55" fill="none" stroke="#52bfd2" stroke-width="1.05"/>
<circle cx="458.1" cy="382.0" r="1.55" fill="none" stroke="#52bfd2" stroke-width="1.05"/>
<circle cx="458.7" cy="381.4" r="1.55" fill="none" stroke="#52bfd2" stroke-width="1.05"/>
<circle cx="459.4" cy="380.8" r="1.55" fill="none" stroke="#52bfd2" stroke-width="1.05"/>
<circle cx="460.0" cy="380.1" r="1.55" fill="none" stroke="#52bfd2" stroke-width="1.05"/>
<circle cx="460.7" cy="379.5" r="1.55" fill="none" stroke="#52bfd2" stroke-width="1.05"/>
<circle cx="461.4" cy="378.9" r="1.55" fill="none" stroke="#52bfd2" stroke-width="1.05"/>
<circle cx="462.0" cy="378.3" r="1.55" fill="none" stroke="#52bfd2" stroke-width="1.05"/>
<circle cx="462.7" cy="377.7" r="1.55" fill="none" stroke="#52bfd2" stroke-width="1.05"/>
<circle cx="463.4" cy="377.1" r="1.55" fill="none" stroke="#52bfd2" stroke-width="1.05"/>
<circle cx="464.0" cy="376.5" r="1.55" fill="none" stroke="#52bfd2" stroke-width="1.05"/>
<circle cx="464.7" cy="375.9" r="1.55" fill="none" stroke="#52bfd2" stroke-width="1.05"/>
<circle cx="465.4" cy="375.3" r="1.55" fill="none" stroke="#52bfd2" stroke-width="1.05"/>
<circle cx="466.1" cy="374.8" r="1.55" fill="none" stroke="#52bfd2" stroke-width="1.05"/>
<circle cx="466.8" cy="374.2" r="1.55" fill="none" stroke="#52bfd2" stroke-width="1.05"/>
<circle cx="467.5" cy="373.6" r="1.55" fill="none" stroke="#52bfd2" stroke-width="1.05"/>
<circle cx="468.2" cy="373.1" r="1.55" fill="none" stroke="#52bfd2" stroke-width="1.05"/>
<circle cx="468.9" cy="372.5" r="1.55" fill="none" stroke="#52bfd2" stroke-width="1.05"/>
<circle cx="469.6" cy="371.9" r="1.55" fill="none" stroke="#52bfd2" stroke-width="1.05"/>
<circle cx="470.3" cy="371.4" r="1.55" fill="none" stroke="#52bfd2" stroke-width="1.05"/>
<circle cx="471.0" cy="370.8" r="1.55" fill="none" stroke="#52bfd2" stroke-width="1.05"/>
<circle cx="471.7" cy="370.3" r="1.55" fill="none" stroke="#52bfd2" stroke-width="1.05"/>
<circle cx="472.4" cy="369.7" r="1.55" fill="none" stroke="#52bfd2" stroke-width="1.05"/>
<circle cx="473.2" cy="369.2" r="1.55" fill="none" stroke="#52bfd2" stroke-width="1.05"/>
<circle cx="473.9" cy="368.7" r="1.55" fill="none" stroke="#52bfd2" stroke-width="1.05"/>
<circle cx="474.6" cy="368.1" r="1.55" fill="none" stroke="#52bfd2" stroke-width="1.05"/>
<circle cx="475.3" cy="367.6" r="1.55" fill="none" stroke="#52bfd2" stroke-width="1.05"/>
<circle cx="476.0" cy="367.0" r="1.55" fill="none" stroke="#52bfd2" stroke-width="1.05"/>
<circle cx="476.8" cy="366.5" r="1.55" fill="none" stroke="#52bfd2" stroke-width="1.05"/>
<circle cx="477.5" cy="366.0" r="1.55" fill="none" stroke="#52bfd2" stroke-width="1.05"/>
<circle cx="478.2" cy="365.4" r="1.55" fill="none" stroke="#52bfd2" stroke-width="1.05"/>
<circle cx="478.9" cy="364.9" r="1.55" fill="none" stroke="#52bfd2" stroke-width="1.05"/>
<circle cx="479.7" cy="364.3" r="1.55" fill="none" stroke="#52bfd2" stroke-width="1.05"/>
<circle cx="480.4" cy="363.8" r="1.55" fill="none" stroke="#52bfd2" stroke-width="1.05"/>
<circle cx="481.1" cy="363.3" r="1.55" fill="none" stroke="#52bfd2" stroke-width="1.05"/>
<circle cx="481.8" cy="362.7" r="1.55" fill="none" stroke="#52bfd2" stroke-width="1.05"/>
<circle cx="482.5" cy="362.2" r="1.55" fill="none" stroke="#52bfd2" stroke-width="1.05"/>
<circle cx="483.3" cy="361.7" r="1.55" fill="none" stroke="#52bfd2" stroke-width="1.05"/>
<circle cx="484.0" cy="361.1" r="1.55" fill="none" stroke="#52bfd2" stroke-width="1.05"/>
<circle cx="484.7" cy="360.6" r="1.55" fill="none" stroke="#52bfd2" stroke-width="1.05"/>
<circle cx="485.4" cy="360.1" r="1.55" fill="none" stroke="#52bfd2" stroke-width="1.05"/>
<circle cx="486.2" cy="359.5" r="1.55" fill="none" stroke="#52bfd2" stroke-width="1.05"/>
<circle cx="486.9" cy="359.0" r="1.55" fill="none" stroke="#52bfd2" stroke-width="1.05"/>
<circle cx="487.6" cy="358.5" r="1.55" fill="none" stroke="#52bfd2" stroke-width="1.05"/>
<circle cx="488.3" cy="357.9" r="1.55" fill="none" stroke="#52bfd2" stroke-width="1.05"/>
<circle cx="489.1" cy="357.4" r="1.55" fill="none" stroke="#52bfd2" stroke-width="1.05"/>
<circle cx="489.8" cy="356.9" r="1.55" fill="none" stroke="#52bfd2" stroke-width="1.05"/>
<circle cx="490.5" cy="356.4" r="1.55" fill="none" stroke="#52bfd2" stroke-width="1.05"/>
<circle cx="491.3" cy="355.9" r="1.55" fill="none" stroke="#52bfd2" stroke-width="1.05"/>
<circle cx="492.0" cy="355.3" r="1.55" fill="none" stroke="#52bfd2" stroke-width="1.05"/>
<circle cx="492.7" cy="354.8" r="1.55" fill="none" stroke="#52bfd2" stroke-width="1.05"/>
<circle cx="493.5" cy="354.3" r="1.55" fill="none" stroke="#52bfd2" stroke-width="1.05"/>
<circle cx="494.2" cy="353.8" r="1.55" fill="none" stroke="#52bfd2" stroke-width="1.05"/>
<circle cx="494.9" cy="353.2" r="1.55" fill="none" stroke="#52bfd2" stroke-width="1.05"/>
<circle cx="495.7" cy="352.7" r="1.55" fill="none" stroke="#52bfd2" stroke-width="1.05"/>
<circle cx="496.4" cy="352.2" r="1.55" fill="none" stroke="#52bfd2" stroke-width="1.05"/>
<circle cx="497.1" cy="351.7" r="1.55" fill="none" stroke="#52bfd2" stroke-width="1.05"/>
<circle cx="497.9" cy="351.2" r="1.55" fill="none" stroke="#52bfd2" stroke-width="1.05"/>
<circle cx="498.6" cy="350.6" r="1.55" fill="none" stroke="#52bfd2" stroke-width="1.05"/>
<circle cx="499.3" cy="350.1" r="1.55" fill="none" stroke="#52bfd2" stroke-width="1.05"/>
<circle cx="500.1" cy="349.6" r="1.55" fill="none" stroke="#52bfd2" stroke-width="1.05"/>
<circle cx="500.8" cy="349.1" r="1.55" fill="none" stroke="#52bfd2" stroke-width="1.05"/>
<circle cx="501.5" cy="348.5" r="1.55" fill="none" stroke="#52bfd2" stroke-width="1.05"/>
<circle cx="502.3" cy="348.0" r="1.55" fill="none" stroke="#52bfd2" stroke-width="1.05"/>
<circle cx="503.0" cy="347.5" r="1.55" fill="none" stroke="#52bfd2" stroke-width="1.05"/>
<circle cx="503.7" cy="347.0" r="1.55" fill="none" stroke="#52bfd2" stroke-width="1.05"/>
<circle cx="504.5" cy="346.4" r="1.55" fill="none" stroke="#52bfd2" stroke-width="1.05"/>
<circle cx="505.2" cy="345.9" r="1.55" fill="none" stroke="#52bfd2" stroke-width="1.05"/>
<circle cx="505.9" cy="345.4" r="1.55" fill="none" stroke="#52bfd2" stroke-width="1.05"/>
<circle cx="506.6" cy="344.8" r="1.55" fill="none" stroke="#52bfd2" stroke-width="1.05"/>
<circle cx="507.4" cy="344.3" r="1.55" fill="none" stroke="#52bfd2" stroke-width="1.05"/>
<circle cx="508.1" cy="343.8" r="1.55" fill="none" stroke="#52bfd2" stroke-width="1.05"/>
<circle cx="508.8" cy="343.2" r="1.55" fill="none" stroke="#52bfd2" stroke-width="1.05"/>
<circle cx="509.5" cy="342.7" r="1.55" fill="none" stroke="#52bfd2" stroke-width="1.05"/>
<circle cx="510.3" cy="342.2" r="1.55" fill="none" stroke="#52bfd2" stroke-width="1.05"/>
<circle cx="511.0" cy="341.6" r="1.55" fill="none" stroke="#52bfd2" stroke-width="1.05"/>
<circle cx="511.7" cy="341.1" r="1.55" fill="none" stroke="#52bfd2" stroke-width="1.05"/>
<circle cx="512.4" cy="340.6" r="1.55" fill="none" stroke="#52bfd2" stroke-width="1.05"/>
<circle cx="513.2" cy="340.0" r="1.55" fill="none" stroke="#52bfd2" stroke-width="1.05"/>
<circle cx="513.9" cy="339.5" r="1.55" fill="none" stroke="#52bfd2" stroke-width="1.05"/>
<circle cx="514.6" cy="339.0" r="1.55" fill="none" stroke="#52bfd2" stroke-width="1.05"/>
<circle cx="515.3" cy="338.4" r="1.55" fill="none" stroke="#52bfd2" stroke-width="1.05"/>
<circle cx="516.1" cy="337.9" r="1.55" fill="none" stroke="#52bfd2" stroke-width="1.05"/>
<circle cx="516.8" cy="337.4" r="1.55" fill="none" stroke="#52bfd2" stroke-width="1.05"/>
<circle cx="517.5" cy="336.8" r="1.55" fill="none" stroke="#52bfd2" stroke-width="1.05"/>
<circle cx="518.2" cy="336.3" r="1.55" fill="none" stroke="#52bfd2" stroke-width="1.05"/>
<circle cx="518.9" cy="335.7" r="1.55" fill="none" stroke="#52bfd2" stroke-width="1.05"/>
<circle cx="519.7" cy="335.2" r="1.55" fill="none" stroke="#52bfd2" stroke-width="1.05"/>
<circle cx="520.4" cy="334.7" r="1.55" fill="none" stroke="#52bfd2" stroke-width="1.05"/>
<circle cx="521.1" cy="334.1" r="1.55" fill="none" stroke="#52bfd2" stroke-width="1.05"/>
<circle cx="521.8" cy="333.6" r="1.55" fill="none" stroke="#52bfd2" stroke-width="1.05"/>
<circle cx="522.5" cy="333.0" r="1.55" fill="none" stroke="#52bfd2" stroke-width="1.05"/>
<circle cx="523.2" cy="332.5" r="1.55" fill="none" stroke="#52bfd2" stroke-width="1.05"/>
<circle cx="524.0" cy="331.9" r="1.55" fill="none" stroke="#52bfd2" stroke-width="1.05"/>
<circle cx="524.7" cy="331.4" r="1.55" fill="none" stroke="#52bfd2" stroke-width="1.05"/>
<circle cx="525.4" cy="330.8" r="1.55" fill="none" stroke="#52bfd2" stroke-width="1.05"/>
<circle cx="526.1" cy="330.3" r="1.55" fill="none" stroke="#52bfd2" stroke-width="1.05"/>
<circle cx="526.8" cy="329.8" r="1.55" fill="none" stroke="#52bfd2" stroke-width="1.05"/>
<circle cx="527.5" cy="329.2" r="1.55" fill="none" stroke="#52bfd2" stroke-width="1.05"/>
<circle cx="528.3" cy="328.7" r="1.55" fill="none" stroke="#52bfd2" stroke-width="1.05"/>
<circle cx="529.0" cy="328.1" r="1.55" fill="none" stroke="#52bfd2" stroke-width="1.05"/>
<circle cx="529.7" cy="327.6" r="1.55" fill="none" stroke="#52bfd2" stroke-width="1.05"/>
<circle cx="530.4" cy="327.0" r="1.55" fill="none" stroke="#52bfd2" stroke-width="1.05"/>
<circle cx="531.1" cy="326.5" r="1.55" fill="none" stroke="#52bfd2" stroke-width="1.05"/>
<circle cx="531.8" cy="325.9" r="1.55" fill="none" stroke="#52bfd2" stroke-width="1.05"/>
<circle cx="423.8" cy="442.7" r="1.45" fill="none" stroke="#62809a" stroke-width="1.05"/>
<circle cx="423.9" cy="441.8" r="1.45" fill="none" stroke="#62809a" stroke-width="1.05"/>
<circle cx="424.0" cy="440.9" r="1.45" fill="none" stroke="#62809a" stroke-width="1.05"/>
<circle cx="424.2" cy="440.0" r="1.45" fill="none" stroke="#62809a" stroke-width="1.05"/>
<circle cx="424.3" cy="439.1" r="1.45" fill="none" stroke="#62809a" stroke-width="1.05"/>
<circle cx="424.4" cy="438.2" r="1.45" fill="none" stroke="#62809a" stroke-width="1.05"/>
<circle cx="424.5" cy="437.4" r="1.45" fill="none" stroke="#62809a" stroke-width="1.05"/>
<circle cx="424.7" cy="436.5" r="1.45" fill="none" stroke="#62809a" stroke-width="1.05"/>
<circle cx="424.8" cy="435.6" r="1.45" fill="none" stroke="#62809a" stroke-width="1.05"/>
<circle cx="425.0" cy="434.7" r="1.45" fill="none" stroke="#62809a" stroke-width="1.05"/>
<circle cx="425.1" cy="433.8" r="1.45" fill="none" stroke="#62809a" stroke-width="1.05"/>
<circle cx="425.3" cy="432.9" r="1.45" fill="none" stroke="#62809a" stroke-width="1.05"/>
<circle cx="425.5" cy="432.0" r="1.45" fill="none" stroke="#62809a" stroke-width="1.05"/>
<circle cx="425.7" cy="431.2" r="1.45" fill="none" stroke="#62809a" stroke-width="1.05"/>
<circle cx="425.9" cy="430.3" r="1.45" fill="none" stroke="#62809a" stroke-width="1.05"/>
<circle cx="426.1" cy="429.4" r="1.45" fill="none" stroke="#62809a" stroke-width="1.05"/>
<circle cx="426.3" cy="428.5" r="1.45" fill="none" stroke="#62809a" stroke-width="1.05"/>
<circle cx="426.5" cy="427.7" r="1.45" fill="none" stroke="#62809a" stroke-width="1.05"/>
<circle cx="426.8" cy="426.8" r="1.45" fill="none" stroke="#62809a" stroke-width="1.05"/>
<circle cx="427.0" cy="425.9" r="1.45" fill="none" stroke="#62809a" stroke-width="1.05"/>
<circle cx="427.2" cy="425.0" r="1.45" fill="none" stroke="#62809a" stroke-width="1.05"/>
<circle cx="427.4" cy="424.2" r="1.45" fill="none" stroke="#62809a" stroke-width="1.05"/>
<circle cx="427.6" cy="423.3" r="1.45" fill="none" stroke="#62809a" stroke-width="1.05"/>
<circle cx="427.8" cy="422.4" r="1.45" fill="none" stroke="#62809a" stroke-width="1.05"/>
<circle cx="428.0" cy="421.5" r="1.45" fill="none" stroke="#62809a" stroke-width="1.05"/>
<circle cx="428.2" cy="420.7" r="1.45" fill="none" stroke="#62809a" stroke-width="1.05"/>
<circle cx="428.4" cy="419.8" r="1.45" fill="none" stroke="#62809a" stroke-width="1.05"/>
<circle cx="428.6" cy="418.9" r="1.45" fill="none" stroke="#62809a" stroke-width="1.05"/>
<circle cx="428.8" cy="418.0" r="1.45" fill="none" stroke="#62809a" stroke-width="1.05"/>
<circle cx="429.0" cy="417.1" r="1.45" fill="none" stroke="#62809a" stroke-width="1.05"/>
<circle cx="429.2" cy="416.3" r="1.45" fill="none" stroke="#62809a" stroke-width="1.05"/>
<circle cx="429.4" cy="415.4" r="1.45" fill="none" stroke="#62809a" stroke-width="1.05"/>
<circle cx="429.6" cy="414.5" r="1.45" fill="none" stroke="#62809a" stroke-width="1.05"/>
<circle cx="429.8" cy="413.6" r="1.45" fill="none" stroke="#62809a" stroke-width="1.05"/>
<circle cx="430.0" cy="412.8" r="1.45" fill="none" stroke="#62809a" stroke-width="1.05"/>
<circle cx="430.2" cy="411.9" r="1.45" fill="none" stroke="#62809a" stroke-width="1.05"/>
<circle cx="430.4" cy="411.0" r="1.45" fill="none" stroke="#62809a" stroke-width="1.05"/>
<circle cx="430.6" cy="410.1" r="1.45" fill="none" stroke="#62809a" stroke-width="1.05"/>
<circle cx="430.8" cy="409.3" r="1.45" fill="none" stroke="#62809a" stroke-width="1.05"/>
<circle cx="431.0" cy="408.4" r="1.45" fill="none" stroke="#62809a" stroke-width="1.05"/>
<circle cx="431.3" cy="407.5" r="1.45" fill="none" stroke="#62809a" stroke-width="1.05"/>
<circle cx="431.5" cy="406.6" r="1.45" fill="none" stroke="#62809a" stroke-width="1.05"/>
<circle cx="431.8" cy="405.8" r="1.45" fill="none" stroke="#62809a" stroke-width="1.05"/>
<circle cx="432.1" cy="404.9" r="1.45" fill="none" stroke="#62809a" stroke-width="1.05"/>
<circle cx="432.4" cy="404.1" r="1.45" fill="none" stroke="#62809a" stroke-width="1.05"/>
<circle cx="432.7" cy="403.3" r="1.45" fill="none" stroke="#62809a" stroke-width="1.05"/>
<circle cx="433.1" cy="402.4" r="1.45" fill="none" stroke="#62809a" stroke-width="1.05"/>
<circle cx="433.4" cy="401.6" r="1.45" fill="none" stroke="#62809a" stroke-width="1.05"/>
<circle cx="433.8" cy="400.8" r="1.45" fill="none" stroke="#62809a" stroke-width="1.05"/>
<circle cx="434.1" cy="399.9" r="1.45" fill="none" stroke="#62809a" stroke-width="1.05"/>
<circle cx="434.5" cy="399.1" r="1.45" fill="none" stroke="#62809a" stroke-width="1.05"/>
<circle cx="435.0" cy="398.3" r="1.45" fill="none" stroke="#62809a" stroke-width="1.05"/>
<circle cx="435.4" cy="397.6" r="1.45" fill="none" stroke="#62809a" stroke-width="1.05"/>
<circle cx="435.8" cy="396.8" r="1.45" fill="none" stroke="#62809a" stroke-width="1.05"/>
<circle cx="436.3" cy="396.0" r="1.45" fill="none" stroke="#62809a" stroke-width="1.05"/>
<circle cx="436.7" cy="395.2" r="1.45" fill="none" stroke="#62809a" stroke-width="1.05"/>
<circle cx="437.2" cy="394.4" r="1.45" fill="none" stroke="#62809a" stroke-width="1.05"/>
<circle cx="437.7" cy="393.7" r="1.45" fill="none" stroke="#62809a" stroke-width="1.05"/>
<circle cx="438.2" cy="392.9" r="1.45" fill="none" stroke="#62809a" stroke-width="1.05"/>
<circle cx="438.7" cy="392.2" r="1.45" fill="none" stroke="#62809a" stroke-width="1.05"/>
<circle cx="439.2" cy="391.4" r="1.45" fill="none" stroke="#62809a" stroke-width="1.05"/>
<circle cx="439.7" cy="390.7" r="1.45" fill="none" stroke="#62809a" stroke-width="1.05"/>
<circle cx="440.2" cy="390.0" r="1.45" fill="none" stroke="#62809a" stroke-width="1.05"/>
<circle cx="440.8" cy="389.2" r="1.45" fill="none" stroke="#62809a" stroke-width="1.05"/>
<circle cx="441.3" cy="388.5" r="1.45" fill="none" stroke="#62809a" stroke-width="1.05"/>
<circle cx="441.8" cy="387.8" r="1.45" fill="none" stroke="#62809a" stroke-width="1.05"/>
<circle cx="442.4" cy="387.1" r="1.45" fill="none" stroke="#62809a" stroke-width="1.05"/>
<circle cx="443.0" cy="386.4" r="1.45" fill="none" stroke="#62809a" stroke-width="1.05"/>
<circle cx="443.6" cy="385.7" r="1.45" fill="none" stroke="#62809a" stroke-width="1.05"/>
<circle cx="444.1" cy="385.0" r="1.45" fill="none" stroke="#62809a" stroke-width="1.05"/>
<circle cx="444.7" cy="384.3" r="1.45" fill="none" stroke="#62809a" stroke-width="1.05"/>
<circle cx="445.3" cy="383.6" r="1.45" fill="none" stroke="#62809a" stroke-width="1.05"/>
<circle cx="445.8" cy="382.9" r="1.45" fill="none" stroke="#62809a" stroke-width="1.05"/>
<circle cx="446.4" cy="382.2" r="1.45" fill="none" stroke="#62809a" stroke-width="1.05"/>
<circle cx="446.9" cy="381.5" r="1.45" fill="none" stroke="#62809a" stroke-width="1.05"/>
<circle cx="447.5" cy="380.8" r="1.45" fill="none" stroke="#62809a" stroke-width="1.05"/>
<circle cx="448.1" cy="380.1" r="1.45" fill="none" stroke="#62809a" stroke-width="1.05"/>
<circle cx="448.6" cy="379.4" r="1.45" fill="none" stroke="#62809a" stroke-width="1.05"/>
<circle cx="449.2" cy="378.7" r="1.45" fill="none" stroke="#62809a" stroke-width="1.05"/>
<circle cx="449.8" cy="378.0" r="1.45" fill="none" stroke="#62809a" stroke-width="1.05"/>
<circle cx="450.4" cy="377.4" r="1.45" fill="none" stroke="#62809a" stroke-width="1.05"/>
<circle cx="451.0" cy="376.7" r="1.45" fill="none" stroke="#62809a" stroke-width="1.05"/>
<circle cx="451.6" cy="376.0" r="1.45" fill="none" stroke="#62809a" stroke-width="1.05"/>
<circle cx="452.2" cy="375.3" r="1.45" fill="none" stroke="#62809a" stroke-width="1.05"/>
<circle cx="452.8" cy="374.7" r="1.45" fill="none" stroke="#62809a" stroke-width="1.05"/>
<circle cx="453.4" cy="374.0" r="1.45" fill="none" stroke="#62809a" stroke-width="1.05"/>
<circle cx="454.1" cy="373.4" r="1.45" fill="none" stroke="#62809a" stroke-width="1.05"/>
<circle cx="454.7" cy="372.8" r="1.45" fill="none" stroke="#62809a" stroke-width="1.05"/>
<circle cx="455.4" cy="372.1" r="1.45" fill="none" stroke="#62809a" stroke-width="1.05"/>
<circle cx="456.0" cy="371.5" r="1.45" fill="none" stroke="#62809a" stroke-width="1.05"/>
<circle cx="456.6" cy="370.8" r="1.45" fill="none" stroke="#62809a" stroke-width="1.05"/>
<circle cx="457.2" cy="370.1" r="1.45" fill="none" stroke="#62809a" stroke-width="1.05"/>
<circle cx="457.8" cy="369.5" r="1.45" fill="none" stroke="#62809a" stroke-width="1.05"/>
<circle cx="458.4" cy="368.8" r="1.45" fill="none" stroke="#62809a" stroke-width="1.05"/>
<circle cx="459.0" cy="368.1" r="1.45" fill="none" stroke="#62809a" stroke-width="1.05"/>
<circle cx="459.6" cy="367.5" r="1.45" fill="none" stroke="#62809a" stroke-width="1.05"/>
<circle cx="460.2" cy="366.8" r="1.45" fill="none" stroke="#62809a" stroke-width="1.05"/>
<circle cx="460.8" cy="366.2" r="1.45" fill="none" stroke="#62809a" stroke-width="1.05"/>
<circle cx="461.5" cy="365.6" r="1.45" fill="none" stroke="#62809a" stroke-width="1.05"/>
<circle cx="462.2" cy="365.0" r="1.45" fill="none" stroke="#62809a" stroke-width="1.05"/>
<circle cx="462.9" cy="364.4" r="1.45" fill="none" stroke="#62809a" stroke-width="1.05"/>
<circle cx="463.5" cy="363.8" r="1.45" fill="none" stroke="#62809a" stroke-width="1.05"/>
<circle cx="464.2" cy="363.3" r="1.45" fill="none" stroke="#62809a" stroke-width="1.05"/>
<circle cx="464.9" cy="362.7" r="1.45" fill="none" stroke="#62809a" stroke-width="1.05"/>
<circle cx="465.6" cy="362.1" r="1.45" fill="none" stroke="#62809a" stroke-width="1.05"/>
<circle cx="466.3" cy="361.5" r="1.45" fill="none" stroke="#62809a" stroke-width="1.05"/>
<circle cx="467.0" cy="360.9" r="1.45" fill="none" stroke="#62809a" stroke-width="1.05"/>
<circle cx="467.7" cy="360.3" r="1.45" fill="none" stroke="#62809a" stroke-width="1.05"/>
<circle cx="468.3" cy="359.7" r="1.45" fill="none" stroke="#62809a" stroke-width="1.05"/>
<circle cx="469.0" cy="359.1" r="1.45" fill="none" stroke="#62809a" stroke-width="1.05"/>
<circle cx="469.6" cy="358.4" r="1.45" fill="none" stroke="#62809a" stroke-width="1.05"/>
<circle cx="470.2" cy="357.8" r="1.45" fill="none" stroke="#62809a" stroke-width="1.05"/>
<circle cx="470.9" cy="357.2" r="1.45" fill="none" stroke="#62809a" stroke-width="1.05"/>
<circle cx="471.5" cy="356.5" r="1.45" fill="none" stroke="#62809a" stroke-width="1.05"/>
<circle cx="472.1" cy="355.9" r="1.45" fill="none" stroke="#62809a" stroke-width="1.05"/>
<circle cx="472.8" cy="355.2" r="1.45" fill="none" stroke="#62809a" stroke-width="1.05"/>
<circle cx="473.4" cy="354.6" r="1.45" fill="none" stroke="#62809a" stroke-width="1.05"/>
<circle cx="474.0" cy="354.0" r="1.45" fill="none" stroke="#62809a" stroke-width="1.05"/>
<circle cx="474.6" cy="353.3" r="1.45" fill="none" stroke="#62809a" stroke-width="1.05"/>
<circle cx="475.3" cy="352.7" r="1.45" fill="none" stroke="#62809a" stroke-width="1.05"/>
<circle cx="475.9" cy="352.0" r="1.45" fill="none" stroke="#62809a" stroke-width="1.05"/>
<circle cx="476.5" cy="351.3" r="1.45" fill="none" stroke="#62809a" stroke-width="1.05"/>
<circle cx="477.1" cy="350.7" r="1.45" fill="none" stroke="#62809a" stroke-width="1.05"/>
<circle cx="477.7" cy="350.0" r="1.45" fill="none" stroke="#62809a" stroke-width="1.05"/>
<circle cx="478.3" cy="349.3" r="1.45" fill="none" stroke="#62809a" stroke-width="1.05"/>
<circle cx="478.9" cy="348.6" r="1.45" fill="none" stroke="#62809a" stroke-width="1.05"/>
<circle cx="479.5" cy="348.0" r="1.45" fill="none" stroke="#62809a" stroke-width="1.05"/>
<circle cx="480.0" cy="347.3" r="1.45" fill="none" stroke="#62809a" stroke-width="1.05"/>
<circle cx="480.6" cy="346.6" r="1.45" fill="none" stroke="#62809a" stroke-width="1.05"/>
<circle cx="481.2" cy="345.9" r="1.45" fill="none" stroke="#62809a" stroke-width="1.05"/>
<circle cx="481.8" cy="345.2" r="1.45" fill="none" stroke="#62809a" stroke-width="1.05"/>
<circle cx="482.4" cy="344.5" r="1.45" fill="none" stroke="#62809a" stroke-width="1.05"/>
<circle cx="482.9" cy="343.8" r="1.45" fill="none" stroke="#62809a" stroke-width="1.05"/>
<circle cx="483.5" cy="343.1" r="1.45" fill="none" stroke="#62809a" stroke-width="1.05"/>
<circle cx="484.1" cy="342.4" r="1.45" fill="none" stroke="#62809a" stroke-width="1.05"/>
<circle cx="484.6" cy="341.7" r="1.45" fill="none" stroke="#62809a" stroke-width="1.05"/>
<circle cx="485.2" cy="341.0" r="1.45" fill="none" stroke="#62809a" stroke-width="1.05"/>
<circle cx="485.7" cy="340.3" r="1.45" fill="none" stroke="#62809a" stroke-width="1.05"/>
<circle cx="486.2" cy="339.5" r="1.45" fill="none" stroke="#62809a" stroke-width="1.05"/>
<circle cx="486.7" cy="338.8" r="1.45" fill="none" stroke="#62809a" stroke-width="1.05"/>
<circle cx="487.2" cy="338.1" r="1.45" fill="none" stroke="#62809a" stroke-width="1.05"/>
<circle cx="487.7" cy="337.3" r="1.45" fill="none" stroke="#62809a" stroke-width="1.05"/>
<circle cx="488.2" cy="336.6" r="1.45" fill="none" stroke="#62809a" stroke-width="1.05"/>
<circle cx="488.7" cy="335.8" r="1.45" fill="none" stroke="#62809a" stroke-width="1.05"/>
<circle cx="489.3" cy="335.1" r="1.45" fill="none" stroke="#62809a" stroke-width="1.05"/>
<circle cx="424.7" cy="442.7" r="1.45" fill="none" stroke="#5f7a91" stroke-width="1.05"/>
<circle cx="424.8" cy="441.7" r="1.45" fill="none" stroke="#5f7a91" stroke-width="1.05"/>
<circle cx="425.0" cy="440.7" r="1.45" fill="none" stroke="#5f7a91" stroke-width="1.05"/>
<circle cx="425.1" cy="439.7" r="1.45" fill="none" stroke="#5f7a91" stroke-width="1.05"/>
<circle cx="425.3" cy="438.7" r="1.45" fill="none" stroke="#5f7a91" stroke-width="1.05"/>
<circle cx="425.4" cy="437.7" r="1.45" fill="none" stroke="#5f7a91" stroke-width="1.05"/>
<circle cx="425.5" cy="436.8" r="1.45" fill="none" stroke="#5f7a91" stroke-width="1.05"/>
<circle cx="425.7" cy="435.8" r="1.45" fill="none" stroke="#5f7a91" stroke-width="1.05"/>
<circle cx="425.8" cy="434.8" r="1.45" fill="none" stroke="#5f7a91" stroke-width="1.05"/>
<circle cx="426.0" cy="433.8" r="1.45" fill="none" stroke="#5f7a91" stroke-width="1.05"/>
<circle cx="426.2" cy="432.8" r="1.45" fill="none" stroke="#5f7a91" stroke-width="1.05"/>
<circle cx="426.4" cy="431.8" r="1.45" fill="none" stroke="#5f7a91" stroke-width="1.05"/>
<circle cx="426.7" cy="430.9" r="1.45" fill="none" stroke="#5f7a91" stroke-width="1.05"/>
<circle cx="426.9" cy="429.9" r="1.45" fill="none" stroke="#5f7a91" stroke-width="1.05"/>
<circle cx="427.1" cy="428.9" r="1.45" fill="none" stroke="#5f7a91" stroke-width="1.05"/>
<circle cx="427.4" cy="428.0" r="1.45" fill="none" stroke="#5f7a91" stroke-width="1.05"/>
<circle cx="427.6" cy="427.0" r="1.45" fill="none" stroke="#5f7a91" stroke-width="1.05"/>
<circle cx="427.8" cy="426.0" r="1.45" fill="none" stroke="#5f7a91" stroke-width="1.05"/>
<circle cx="428.1" cy="425.0" r="1.45" fill="none" stroke="#5f7a91" stroke-width="1.05"/>
<circle cx="428.3" cy="424.1" r="1.45" fill="none" stroke="#5f7a91" stroke-width="1.05"/>
<circle cx="428.5" cy="423.1" r="1.45" fill="none" stroke="#5f7a91" stroke-width="1.05"/>
<circle cx="428.8" cy="422.1" r="1.45" fill="none" stroke="#5f7a91" stroke-width="1.05"/>
<circle cx="429.0" cy="421.1" r="1.45" fill="none" stroke="#5f7a91" stroke-width="1.05"/>
<circle cx="429.2" cy="420.2" r="1.45" fill="none" stroke="#5f7a91" stroke-width="1.05"/>
<circle cx="429.4" cy="419.2" r="1.45" fill="none" stroke="#5f7a91" stroke-width="1.05"/>
<circle cx="429.7" cy="418.2" r="1.45" fill="none" stroke="#5f7a91" stroke-width="1.05"/>
<circle cx="429.9" cy="417.2" r="1.45" fill="none" stroke="#5f7a91" stroke-width="1.05"/>
<circle cx="430.1" cy="416.3" r="1.45" fill="none" stroke="#5f7a91" stroke-width="1.05"/>
<circle cx="429.5" cy="427.3" r="1.25" fill="none" stroke="#f2ad6a" stroke-width="1.0"/>
<circle cx="429.8" cy="426.2" r="1.25" fill="none" stroke="#f2ad6a" stroke-width="1.0"/>
<circle cx="430.1" cy="425.2" r="1.25" fill="none" stroke="#f2ad6a" stroke-width="1.0"/>
<circle cx="430.4" cy="424.1" r="1.25" fill="none" stroke="#f2ad6a" stroke-width="1.0"/>
<circle cx="430.7" cy="423.1" r="1.25" fill="none" stroke="#f2ad6a" stroke-width="1.0"/>
<circle cx="431.1" cy="422.0" r="1.25" fill="none" stroke="#f2ad6a" stroke-width="1.0"/>
<line x1="453.90" y1="371.20" x2="478.50" y2="348.50" stroke="#111" stroke-width="1.9" stroke-dasharray="4.6 2.4"/>
<line x1="467.20" y1="372.30" x2="493.20" y2="354.70" stroke="#111" stroke-width="1.9" stroke-dasharray="4.6 2.4"/>
<line x1="461.60" y1="381.60" x2="503.20" y2="363.10" stroke="#111" stroke-width="1.9" stroke-dasharray="4.6 2.4"/>
<line x1="454.60" y1="390.10" x2="524.00" y2="363.10" stroke="#111" stroke-width="1.9" stroke-dasharray="4.6 2.4"/>
<line x1="455.40" y1="390.80" x2="515.50" y2="372.60" stroke="#111" stroke-width="1.9" stroke-dasharray="4.6 2.4"/>
<rect x="400.9" y="292.1" width="239.30" height="189.60" fill="none" stroke="#7d7d7d" stroke-width="1.1"/>
<line x1="398.00" y1="292.10" x2="400.90" y2="292.10" stroke="#7d7d7d" stroke-width="1.0" />
<text x="395.20" y="296.10" font-size="11.5" text-anchor="end" fill="#231f20" stroke="#231f20" stroke-width="0.22" >&#8722;0.9</text>
<line x1="399.20" y1="315.80" x2="400.90" y2="315.80" stroke="#7d7d7d" stroke-width="1.0" />
<line x1="398.00" y1="339.50" x2="400.90" y2="339.50" stroke="#7d7d7d" stroke-width="1.0" />
<text x="395.20" y="343.50" font-size="11.5" text-anchor="end" fill="#231f20" stroke="#231f20" stroke-width="0.22" >&#8722;0.8</text>
<line x1="399.20" y1="363.20" x2="400.90" y2="363.20" stroke="#7d7d7d" stroke-width="1.0" />
<line x1="398.00" y1="386.90" x2="400.90" y2="386.90" stroke="#7d7d7d" stroke-width="1.0" />
<text x="395.20" y="390.90" font-size="11.5" text-anchor="end" fill="#231f20" stroke="#231f20" stroke-width="0.22" >&#8722;0.7</text>
<line x1="399.20" y1="410.60" x2="400.90" y2="410.60" stroke="#7d7d7d" stroke-width="1.0" />
<line x1="398.00" y1="434.30" x2="400.90" y2="434.30" stroke="#7d7d7d" stroke-width="1.0" />
<text x="395.20" y="438.30" font-size="11.5" text-anchor="end" fill="#231f20" stroke="#231f20" stroke-width="0.22" >&#8722;0.6</text>
<line x1="399.20" y1="458.00" x2="400.90" y2="458.00" stroke="#7d7d7d" stroke-width="1.0" />
<line x1="398.00" y1="481.70" x2="400.90" y2="481.70" stroke="#7d7d7d" stroke-width="1.0" />
<text x="395.20" y="485.70" font-size="11.5" text-anchor="end" fill="#231f20" stroke="#231f20" stroke-width="0.22" >&#8722;0.5</text>
<line x1="400.90" y1="481.70" x2="400.90" y2="484.30" stroke="#7d7d7d" stroke-width="1.0" />
<text x="400.60" y="495.90" font-size="11.5" text-anchor="middle" fill="#231f20" stroke="#231f20" stroke-width="0.22" >&#8722;12.5</text>
<line x1="424.83" y1="481.70" x2="424.83" y2="483.30" stroke="#7d7d7d" stroke-width="1.0" />
<line x1="448.76" y1="481.70" x2="448.76" y2="484.30" stroke="#7d7d7d" stroke-width="1.0" />
<text x="448.46" y="495.90" font-size="11.5" text-anchor="middle" fill="#231f20" stroke="#231f20" stroke-width="0.22" >&#8722;12.0</text>
<line x1="472.69" y1="481.70" x2="472.69" y2="483.30" stroke="#7d7d7d" stroke-width="1.0" />
<line x1="496.62" y1="481.70" x2="496.62" y2="484.30" stroke="#7d7d7d" stroke-width="1.0" />
<text x="496.32" y="495.90" font-size="11.5" text-anchor="middle" fill="#231f20" stroke="#231f20" stroke-width="0.22" >&#8722;11.5</text>
<line x1="520.55" y1="481.70" x2="520.55" y2="483.30" stroke="#7d7d7d" stroke-width="1.0" />
<line x1="544.48" y1="481.70" x2="544.48" y2="484.30" stroke="#7d7d7d" stroke-width="1.0" />
<text x="544.18" y="495.90" font-size="11.5" text-anchor="middle" fill="#231f20" stroke="#231f20" stroke-width="0.22" >&#8722;11.0</text>
<line x1="568.41" y1="481.70" x2="568.41" y2="483.30" stroke="#7d7d7d" stroke-width="1.0" />
<line x1="592.34" y1="481.70" x2="592.34" y2="484.30" stroke="#7d7d7d" stroke-width="1.0" />
<text x="592.04" y="495.90" font-size="11.5" text-anchor="middle" fill="#231f20" stroke="#231f20" stroke-width="0.22" >&#8722;10.5</text>
<line x1="616.27" y1="481.70" x2="616.27" y2="483.30" stroke="#7d7d7d" stroke-width="1.0" />
<line x1="640.20" y1="481.70" x2="640.20" y2="484.30" stroke="#7d7d7d" stroke-width="1.0" />
<text x="639.90" y="495.90" font-size="11.5" text-anchor="middle" fill="#231f20" stroke="#231f20" stroke-width="0.22" >&#8722;10.0</text>
<text x="349.50" y="281.80" font-size="19" text-anchor="start" fill="#231f20" stroke="#231f20" stroke-width="0.22" >(d)</text>
<text x="0" y="0" font-size="13" text-anchor="middle" fill="#231f20" stroke="#231f20" stroke-width="0.22" transform="translate(366,390.1) rotate(-90)"><tspan font-style="italic">E</tspan> (V vs. RHE)</text>
<text x="480.6" y="514" font-size="12.6" fill="#231f20" stroke="#231f20" stroke-width="0.22">log <tspan font-style="italic">I</tspan><tspan font-size="7.9" dy="4.5">m/z=15</tspan><tspan dy="-4.5"> (a.u.)</tspan></text>
<text x="408.10" y="308.20" font-size="12" text-anchor="start" fill="#231f20" stroke="#231f20" stroke-width="0.22" >increasing hydrophilicity</text>
<path d="M587.8,336.5 C575,322 553,314 518,316.9" stroke="#231f20" stroke-width="1" fill="none"/>
<polygon points="512.90,317.40 519.50,314.30 518.80,320.30" fill="#231f20" />
<text x="458.00" y="342.00" font-size="12.3" text-anchor="start" fill="#231f20" stroke="#231f20" stroke-width="0.22" >213</text>
<text x="497.30" y="333.80" font-size="12.3" text-anchor="start" fill="#231f20" stroke="#231f20" stroke-width="0.22" >146</text>
<text x="537.90" y="335.90" font-size="12.3" text-anchor="start" fill="#231f20" stroke="#231f20" stroke-width="0.22" >93</text>
<text x="574.70" y="348.20" font-size="12.3" text-anchor="start" fill="#231f20" stroke="#231f20" stroke-width="0.22" >76</text>
<text x="592.00" y="369.70" font-size="12.3" text-anchor="start" fill="#231f20" stroke="#231f20" stroke-width="0.22" >52</text>
<line x1="456.00" y1="410.40" x2="470.00" y2="410.40" stroke="#231f20" stroke-width="1.4" />
<polygon points="450.10,410.40 457.00,407.40 457.00,413.40" fill="#231f20" />
<text x="472.6" y="414.2" font-size="11.0" fill="#231f20" stroke="#231f20" stroke-width="0.22"><tspan font-style="italic">E</tspan><tspan font-size="7.8" dy="2">onset</tspan><tspan dy="-2"> = </tspan><tspan fill="#777" stroke="#777">&#8722;</tspan><tspan dx="1.3">0.65 V</tspan></text>
<circle cx="592" cy="415.90" r="3.5" fill="none" stroke="#f9cfb2" stroke-width="1"/>
<text x="604.60" y="419.80" font-size="11.3" text-anchor="start" fill="#231f20" stroke="#231f20" stroke-width="0.22" >0 %</text>
<circle cx="592" cy="429.40" r="3.5" fill="none" stroke="#f8e7b0" stroke-width="1"/>
<text x="604.60" y="433.30" font-size="11.3" text-anchor="start" fill="#231f20" stroke="#231f20" stroke-width="0.22" >20 %</text>
<circle cx="592" cy="442.90" r="3.5" fill="none" stroke="#d3e7bc" stroke-width="1"/>
<text x="604.60" y="446.80" font-size="11.3" text-anchor="start" fill="#231f20" stroke="#231f20" stroke-width="0.22" >40 %</text>
<circle cx="592" cy="456.40" r="3.5" fill="none" stroke="#bfe6ee" stroke-width="1"/>
<text x="604.60" y="460.30" font-size="11.3" text-anchor="start" fill="#231f20" stroke="#231f20" stroke-width="0.22" >60 %</text>
<circle cx="592" cy="469.90" r="3.5" fill="none" stroke="#cbd2da" stroke-width="1"/>
<text x="604.60" y="473.80" font-size="11.3" text-anchor="start" fill="#231f20" stroke="#231f20" stroke-width="0.22" >80 %</text>
</svg>
</body></html>
